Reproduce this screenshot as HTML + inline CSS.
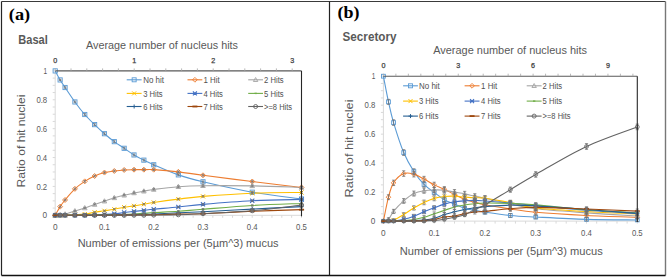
<!DOCTYPE html><html><head><meta charset="utf-8"><style>html,body{margin:0;padding:0;background:#fff;overflow:hidden}svg{display:block}</style></head><body><svg width="667" height="277" viewBox="0 0 667 277">
<rect x="0" y="0" width="667" height="277" fill="#fff"/>
<path d="M55.20,70.90 L55.20,215.30" stroke="#D9D9D9" stroke-width="1"/>
<path d="M52.70,215.30 L55.20,215.30" stroke="#D9D9D9" stroke-width="1"/>
<path d="M52.70,208.08 L55.20,208.08" stroke="#D9D9D9" stroke-width="1"/>
<path d="M52.70,200.86 L55.20,200.86" stroke="#D9D9D9" stroke-width="1"/>
<path d="M52.70,193.64 L55.20,193.64" stroke="#D9D9D9" stroke-width="1"/>
<path d="M52.70,186.42 L55.20,186.42" stroke="#D9D9D9" stroke-width="1"/>
<path d="M52.70,179.20 L55.20,179.20" stroke="#D9D9D9" stroke-width="1"/>
<path d="M52.70,171.98 L55.20,171.98" stroke="#D9D9D9" stroke-width="1"/>
<path d="M52.70,164.76 L55.20,164.76" stroke="#D9D9D9" stroke-width="1"/>
<path d="M52.70,157.54 L55.20,157.54" stroke="#D9D9D9" stroke-width="1"/>
<path d="M52.70,150.32 L55.20,150.32" stroke="#D9D9D9" stroke-width="1"/>
<path d="M52.70,143.10 L55.20,143.10" stroke="#D9D9D9" stroke-width="1"/>
<path d="M52.70,135.88 L55.20,135.88" stroke="#D9D9D9" stroke-width="1"/>
<path d="M52.70,128.66 L55.20,128.66" stroke="#D9D9D9" stroke-width="1"/>
<path d="M52.70,121.44 L55.20,121.44" stroke="#D9D9D9" stroke-width="1"/>
<path d="M52.70,114.22 L55.20,114.22" stroke="#D9D9D9" stroke-width="1"/>
<path d="M52.70,107.00 L55.20,107.00" stroke="#D9D9D9" stroke-width="1"/>
<path d="M52.70,99.78 L55.20,99.78" stroke="#D9D9D9" stroke-width="1"/>
<path d="M52.70,92.56 L55.20,92.56" stroke="#D9D9D9" stroke-width="1"/>
<path d="M52.70,85.34 L55.20,85.34" stroke="#D9D9D9" stroke-width="1"/>
<path d="M52.70,78.12 L55.20,78.12" stroke="#D9D9D9" stroke-width="1"/>
<path d="M52.70,70.90 L55.20,70.90" stroke="#D9D9D9" stroke-width="1"/>
<path d="M55.20,215.30 L301.50,215.30" stroke="#D9D9D9" stroke-width="1"/>
<path d="M55.20,215.30 L55.20,217.80" stroke="#D9D9D9" stroke-width="1"/>
<path d="M65.05,215.30 L65.05,217.80" stroke="#D9D9D9" stroke-width="1"/>
<path d="M74.90,215.30 L74.90,217.80" stroke="#D9D9D9" stroke-width="1"/>
<path d="M84.76,215.30 L84.76,217.80" stroke="#D9D9D9" stroke-width="1"/>
<path d="M94.61,215.30 L94.61,217.80" stroke="#D9D9D9" stroke-width="1"/>
<path d="M104.46,215.30 L104.46,217.80" stroke="#D9D9D9" stroke-width="1"/>
<path d="M114.31,215.30 L114.31,217.80" stroke="#D9D9D9" stroke-width="1"/>
<path d="M124.16,215.30 L124.16,217.80" stroke="#D9D9D9" stroke-width="1"/>
<path d="M134.02,215.30 L134.02,217.80" stroke="#D9D9D9" stroke-width="1"/>
<path d="M143.87,215.30 L143.87,217.80" stroke="#D9D9D9" stroke-width="1"/>
<path d="M153.72,215.30 L153.72,217.80" stroke="#D9D9D9" stroke-width="1"/>
<path d="M163.57,215.30 L163.57,217.80" stroke="#D9D9D9" stroke-width="1"/>
<path d="M173.42,215.30 L173.42,217.80" stroke="#D9D9D9" stroke-width="1"/>
<path d="M183.28,215.30 L183.28,217.80" stroke="#D9D9D9" stroke-width="1"/>
<path d="M193.13,215.30 L193.13,217.80" stroke="#D9D9D9" stroke-width="1"/>
<path d="M202.98,215.30 L202.98,217.80" stroke="#D9D9D9" stroke-width="1"/>
<path d="M212.83,215.30 L212.83,217.80" stroke="#D9D9D9" stroke-width="1"/>
<path d="M222.68,215.30 L222.68,217.80" stroke="#D9D9D9" stroke-width="1"/>
<path d="M232.54,215.30 L232.54,217.80" stroke="#D9D9D9" stroke-width="1"/>
<path d="M242.39,215.30 L242.39,217.80" stroke="#D9D9D9" stroke-width="1"/>
<path d="M252.24,215.30 L252.24,217.80" stroke="#D9D9D9" stroke-width="1"/>
<path d="M262.09,215.30 L262.09,217.80" stroke="#D9D9D9" stroke-width="1"/>
<path d="M271.94,215.30 L271.94,217.80" stroke="#D9D9D9" stroke-width="1"/>
<path d="M281.80,215.30 L281.80,217.80" stroke="#D9D9D9" stroke-width="1"/>
<path d="M291.65,215.30 L291.65,217.80" stroke="#D9D9D9" stroke-width="1"/>
<path d="M301.50,215.30 L301.50,217.80" stroke="#D9D9D9" stroke-width="1"/>
<path d="M55.20,70.90 C56.02,72.40 58.48,77.16 60.13,79.93 C61.77,82.69 62.59,83.84 65.05,87.51 C67.52,91.18 71.62,97.45 74.90,101.95 C78.19,106.45 81.47,110.73 84.76,114.51 C88.04,118.29 91.32,121.42 94.61,124.62 C97.89,127.82 101.18,130.87 104.46,133.71 C107.74,136.55 111.03,139.23 114.31,141.66 C117.60,144.09 120.88,146.08 124.16,148.30 C127.45,150.51 130.73,152.97 134.02,154.94 C137.30,156.91 140.58,158.50 143.87,160.14 C147.15,161.78 147.97,162.31 153.72,164.76 C159.47,167.21 170.14,172.03 178.35,174.87 C186.56,177.71 190.67,178.91 202.98,181.80 C215.30,184.69 235.82,189.33 252.24,192.20 C268.66,195.06 293.29,197.85 301.50,198.98" fill="none" stroke="#5B9BD5" stroke-width="1.1"/>
<path d="M55.20,215.30 C56.02,213.86 58.48,209.19 60.13,206.64 C61.77,204.08 62.59,202.95 65.05,199.99 C67.52,197.03 71.62,191.98 74.90,188.87 C78.19,185.77 81.47,183.51 84.76,181.37 C88.04,179.22 91.32,177.49 94.61,176.02 C97.89,174.56 101.18,173.40 104.46,172.56 C107.74,171.72 111.03,171.40 114.31,170.97 C117.60,170.54 120.88,170.18 124.16,169.96 C127.45,169.74 130.73,169.72 134.02,169.67 C137.30,169.62 140.58,169.67 143.87,169.67 C147.15,169.67 147.97,169.31 153.72,169.67 C159.47,170.03 170.14,170.90 178.35,171.84 C186.56,172.77 190.67,173.69 202.98,175.30 C215.30,176.91 235.82,179.49 252.24,181.51 C268.66,183.53 293.29,186.44 301.50,187.43" fill="none" stroke="#ED7D31" stroke-width="1.1"/>
<path d="M55.20,215.30 C56.02,215.23 58.48,215.06 60.13,214.87 C61.77,214.67 62.59,214.79 65.05,214.14 C67.52,213.50 71.62,212.00 74.90,210.97 C78.19,209.93 81.47,209.02 84.76,207.94 C88.04,206.85 91.32,205.60 94.61,204.47 C97.89,203.34 101.18,202.26 104.46,201.15 C107.74,200.04 111.03,198.81 114.31,197.83 C117.60,196.84 120.88,196.05 124.16,195.23 C127.45,194.41 130.73,193.59 134.02,192.92 C137.30,192.24 140.58,191.76 143.87,191.19 C147.15,190.61 147.97,190.20 153.72,189.45 C159.47,188.71 170.14,187.33 178.35,186.71 C186.56,186.08 190.67,185.84 202.98,185.70 C215.30,185.55 235.82,185.55 252.24,185.84 C268.66,186.13 293.29,187.17 301.50,187.43" fill="none" stroke="#A5A5A5" stroke-width="1.1"/>
<path d="M55.20,215.30 C56.02,215.30 58.48,215.32 60.13,215.30 C61.77,215.28 62.59,215.23 65.05,215.16 C67.52,215.08 71.62,215.04 74.90,214.87 C78.19,214.70 81.47,214.58 84.76,214.14 C88.04,213.71 91.32,212.82 94.61,212.27 C97.89,211.71 101.18,211.33 104.46,210.82 C107.74,210.32 111.03,209.84 114.31,209.24 C117.60,208.63 120.88,207.77 124.16,207.21 C127.45,206.66 130.73,206.42 134.02,205.91 C137.30,205.41 140.58,204.76 143.87,204.18 C147.15,203.60 147.97,203.29 153.72,202.45 C159.47,201.61 170.14,200.14 178.35,199.13 C186.56,198.12 190.67,197.37 202.98,196.38 C215.30,195.40 235.82,193.86 252.24,193.21 C268.66,192.56 293.29,192.61 301.50,192.48" fill="none" stroke="#FFC000" stroke-width="1.1"/>
<path d="M55.20,215.30 C56.02,215.30 58.48,215.30 60.13,215.30 C61.77,215.30 62.59,215.30 65.05,215.30 C67.52,215.30 71.62,215.32 74.90,215.30 C78.19,215.28 81.47,215.23 84.76,215.16 C88.04,215.08 91.32,214.99 94.61,214.87 C97.89,214.75 101.18,214.60 104.46,214.43 C107.74,214.27 111.03,214.17 114.31,213.86 C117.60,213.54 120.88,212.97 124.16,212.56 C127.45,212.15 130.73,211.76 134.02,211.40 C137.30,211.04 140.58,210.75 143.87,210.39 C147.15,210.03 147.97,209.79 153.72,209.24 C159.47,208.68 170.14,207.89 178.35,207.07 C186.56,206.25 190.67,205.38 202.98,204.33 C215.30,203.27 235.82,201.53 252.24,200.72 C268.66,199.90 293.29,199.63 301.50,199.42" fill="none" stroke="#4472C4" stroke-width="1.1"/>
<path d="M55.20,215.30 C56.02,215.30 58.48,215.30 60.13,215.30 C61.77,215.30 62.59,215.30 65.05,215.30 C67.52,215.30 71.62,215.30 74.90,215.30 C78.19,215.30 81.47,215.32 84.76,215.30 C88.04,215.28 91.32,215.20 94.61,215.16 C97.89,215.11 101.18,215.08 104.46,215.01 C107.74,214.94 111.03,214.82 114.31,214.72 C117.60,214.63 120.88,214.55 124.16,214.43 C127.45,214.31 130.73,214.17 134.02,214.00 C137.30,213.83 140.58,213.66 143.87,213.42 C147.15,213.18 147.97,212.92 153.72,212.56 C159.47,212.20 170.14,211.81 178.35,211.26 C186.56,210.70 190.67,210.20 202.98,209.24 C215.30,208.27 235.82,206.44 252.24,205.48 C268.66,204.52 293.29,203.80 301.50,203.46" fill="none" stroke="#70AD47" stroke-width="1.1"/>
<path d="M55.20,215.30 C56.02,215.30 58.48,215.30 60.13,215.30 C61.77,215.30 62.59,215.30 65.05,215.30 C67.52,215.30 71.62,215.30 74.90,215.30 C78.19,215.30 81.47,215.30 84.76,215.30 C88.04,215.30 91.32,215.32 94.61,215.30 C97.89,215.28 101.18,215.20 104.46,215.16 C107.74,215.11 111.03,215.06 114.31,215.01 C117.60,214.96 120.88,214.94 124.16,214.87 C127.45,214.79 130.73,214.67 134.02,214.58 C137.30,214.48 140.58,214.39 143.87,214.29 C147.15,214.19 147.97,214.24 153.72,214.00 C159.47,213.76 170.14,213.23 178.35,212.85 C186.56,212.46 190.67,212.32 202.98,211.69 C215.30,211.06 235.82,209.93 252.24,209.09 C268.66,208.25 293.29,207.05 301.50,206.64" fill="none" stroke="#255E91" stroke-width="1.1"/>
<path d="M55.20,215.30 C56.02,215.30 58.48,215.30 60.13,215.30 C61.77,215.30 62.59,215.30 65.05,215.30 C67.52,215.30 71.62,215.30 74.90,215.30 C78.19,215.30 81.47,215.30 84.76,215.30 C88.04,215.30 91.32,215.30 94.61,215.30 C97.89,215.30 101.18,215.32 104.46,215.30 C107.74,215.28 111.03,215.18 114.31,215.16 C117.60,215.13 120.88,215.18 124.16,215.16 C127.45,215.13 130.73,215.06 134.02,215.01 C137.30,214.96 140.58,214.91 143.87,214.87 C147.15,214.82 147.97,214.84 153.72,214.72 C159.47,214.60 170.14,214.31 178.35,214.14 C186.56,213.98 190.67,214.19 202.98,213.71 C215.30,213.23 235.82,211.93 252.24,211.26 C268.66,210.58 293.29,209.93 301.50,209.67" fill="none" stroke="#9E480E" stroke-width="1.1"/>
<path d="M55.20,215.30 C56.02,215.30 58.48,215.30 60.13,215.30 C61.77,215.30 62.59,215.30 65.05,215.30 C67.52,215.30 71.62,215.30 74.90,215.30 C78.19,215.30 81.47,215.30 84.76,215.30 C88.04,215.30 91.32,215.30 94.61,215.30 C97.89,215.30 101.18,215.30 104.46,215.30 C107.74,215.30 111.03,215.30 114.31,215.30 C117.60,215.30 120.88,215.32 124.16,215.30 C127.45,215.28 130.73,215.18 134.02,215.16 C137.30,215.13 140.58,215.18 143.87,215.16 C147.15,215.13 147.97,215.08 153.72,215.01 C159.47,214.94 170.14,214.96 178.35,214.72 C186.56,214.48 190.67,214.24 202.98,213.57 C215.30,212.89 235.82,212.10 252.24,210.68 C268.66,209.26 293.29,205.99 301.50,205.05" fill="none" stroke="#636363" stroke-width="1.1"/>
<rect x="53.10" y="68.80" width="4.20" height="4.20" fill="none" stroke="#5B9BD5" stroke-width="0.9"/>
<rect x="58.03" y="77.83" width="4.20" height="4.20" fill="none" stroke="#5B9BD5" stroke-width="0.9"/>
<rect x="62.95" y="85.41" width="4.20" height="4.20" fill="none" stroke="#5B9BD5" stroke-width="0.9"/>
<rect x="72.80" y="99.85" width="4.20" height="4.20" fill="none" stroke="#5B9BD5" stroke-width="0.9"/>
<rect x="82.66" y="112.41" width="4.20" height="4.20" fill="none" stroke="#5B9BD5" stroke-width="0.9"/>
<rect x="92.51" y="122.52" width="4.20" height="4.20" fill="none" stroke="#5B9BD5" stroke-width="0.9"/>
<rect x="102.36" y="131.61" width="4.20" height="4.20" fill="none" stroke="#5B9BD5" stroke-width="0.9"/>
<rect x="112.21" y="139.56" width="4.20" height="4.20" fill="none" stroke="#5B9BD5" stroke-width="0.9"/>
<rect x="122.06" y="146.20" width="4.20" height="4.20" fill="none" stroke="#5B9BD5" stroke-width="0.9"/>
<rect x="131.92" y="152.84" width="4.20" height="4.20" fill="none" stroke="#5B9BD5" stroke-width="0.9"/>
<rect x="141.77" y="158.04" width="4.20" height="4.20" fill="none" stroke="#5B9BD5" stroke-width="0.9"/>
<rect x="151.62" y="162.66" width="4.20" height="4.20" fill="none" stroke="#5B9BD5" stroke-width="0.9"/>
<rect x="176.25" y="172.77" width="4.20" height="4.20" fill="none" stroke="#5B9BD5" stroke-width="0.9"/>
<rect x="200.88" y="179.70" width="4.20" height="4.20" fill="none" stroke="#5B9BD5" stroke-width="0.9"/>
<rect x="250.14" y="190.10" width="4.20" height="4.20" fill="none" stroke="#5B9BD5" stroke-width="0.9"/>
<rect x="299.40" y="196.88" width="4.20" height="4.20" fill="none" stroke="#5B9BD5" stroke-width="0.9"/>
<path d="M55.20,212.80 L57.70,215.30 L55.20,217.80 L52.70,215.30 Z" fill="none" stroke="#ED7D31" stroke-width="0.9"/>
<path d="M60.13,204.14 L62.63,206.64 L60.13,209.14 L57.63,206.64 Z" fill="none" stroke="#ED7D31" stroke-width="0.9"/>
<path d="M65.05,197.49 L67.55,199.99 L65.05,202.49 L62.55,199.99 Z" fill="none" stroke="#ED7D31" stroke-width="0.9"/>
<path d="M74.90,186.37 L77.40,188.87 L74.90,191.37 L72.40,188.87 Z" fill="none" stroke="#ED7D31" stroke-width="0.9"/>
<path d="M84.76,178.87 L87.26,181.37 L84.76,183.87 L82.26,181.37 Z" fill="none" stroke="#ED7D31" stroke-width="0.9"/>
<path d="M94.61,173.52 L97.11,176.02 L94.61,178.52 L92.11,176.02 Z" fill="none" stroke="#ED7D31" stroke-width="0.9"/>
<path d="M104.46,170.06 L106.96,172.56 L104.46,175.06 L101.96,172.56 Z" fill="none" stroke="#ED7D31" stroke-width="0.9"/>
<path d="M114.31,168.47 L116.81,170.97 L114.31,173.47 L111.81,170.97 Z" fill="none" stroke="#ED7D31" stroke-width="0.9"/>
<path d="M124.16,167.46 L126.66,169.96 L124.16,172.46 L121.66,169.96 Z" fill="none" stroke="#ED7D31" stroke-width="0.9"/>
<path d="M134.02,167.17 L136.52,169.67 L134.02,172.17 L131.52,169.67 Z" fill="none" stroke="#ED7D31" stroke-width="0.9"/>
<path d="M143.87,167.17 L146.37,169.67 L143.87,172.17 L141.37,169.67 Z" fill="none" stroke="#ED7D31" stroke-width="0.9"/>
<path d="M153.72,167.17 L156.22,169.67 L153.72,172.17 L151.22,169.67 Z" fill="none" stroke="#ED7D31" stroke-width="0.9"/>
<path d="M178.35,169.34 L180.85,171.84 L178.35,174.34 L175.85,171.84 Z" fill="none" stroke="#ED7D31" stroke-width="0.9"/>
<path d="M202.98,172.80 L205.48,175.30 L202.98,177.80 L200.48,175.30 Z" fill="none" stroke="#ED7D31" stroke-width="0.9"/>
<path d="M252.24,179.01 L254.74,181.51 L252.24,184.01 L249.74,181.51 Z" fill="none" stroke="#ED7D31" stroke-width="0.9"/>
<path d="M301.50,184.93 L304.00,187.43 L301.50,189.93 L299.00,187.43 Z" fill="none" stroke="#ED7D31" stroke-width="0.9"/>
<path d="M55.20,212.90 L57.50,217.10 L52.90,217.10 Z" fill="none" stroke="#A5A5A5" stroke-width="0.9"/>
<path d="M60.13,212.47 L62.43,216.67 L57.83,216.67 Z" fill="none" stroke="#A5A5A5" stroke-width="0.9"/>
<path d="M65.05,211.74 L67.35,215.94 L62.75,215.94 Z" fill="none" stroke="#A5A5A5" stroke-width="0.9"/>
<path d="M74.90,208.57 L77.20,212.77 L72.60,212.77 Z" fill="none" stroke="#A5A5A5" stroke-width="0.9"/>
<path d="M84.76,205.54 L87.06,209.74 L82.46,209.74 Z" fill="none" stroke="#A5A5A5" stroke-width="0.9"/>
<path d="M94.61,202.07 L96.91,206.27 L92.31,206.27 Z" fill="none" stroke="#A5A5A5" stroke-width="0.9"/>
<path d="M104.46,198.75 L106.76,202.95 L102.16,202.95 Z" fill="none" stroke="#A5A5A5" stroke-width="0.9"/>
<path d="M114.31,195.43 L116.61,199.63 L112.01,199.63 Z" fill="none" stroke="#A5A5A5" stroke-width="0.9"/>
<path d="M124.16,192.83 L126.46,197.03 L121.86,197.03 Z" fill="none" stroke="#A5A5A5" stroke-width="0.9"/>
<path d="M134.02,190.52 L136.32,194.72 L131.72,194.72 Z" fill="none" stroke="#A5A5A5" stroke-width="0.9"/>
<path d="M143.87,188.79 L146.17,192.99 L141.57,192.99 Z" fill="none" stroke="#A5A5A5" stroke-width="0.9"/>
<path d="M153.72,187.05 L156.02,191.25 L151.42,191.25 Z" fill="none" stroke="#A5A5A5" stroke-width="0.9"/>
<path d="M178.35,184.31 L180.65,188.51 L176.05,188.51 Z" fill="none" stroke="#A5A5A5" stroke-width="0.9"/>
<path d="M202.98,183.30 L205.28,187.50 L200.68,187.50 Z" fill="none" stroke="#A5A5A5" stroke-width="0.9"/>
<path d="M252.24,183.44 L254.54,187.64 L249.94,187.64 Z" fill="none" stroke="#A5A5A5" stroke-width="0.9"/>
<path d="M301.50,185.03 L303.80,189.23 L299.20,189.23 Z" fill="none" stroke="#A5A5A5" stroke-width="0.9"/>
<path d="M53.10,213.20 L57.30,217.40 M57.30,213.20 L53.10,217.40" stroke="#FFC000" stroke-width="1"/>
<path d="M58.03,213.20 L62.23,217.40 M62.23,213.20 L58.03,217.40" stroke="#FFC000" stroke-width="1"/>
<path d="M62.95,213.06 L67.15,217.26 M67.15,213.06 L62.95,217.26" stroke="#FFC000" stroke-width="1"/>
<path d="M72.80,212.77 L77.00,216.97 M77.00,212.77 L72.80,216.97" stroke="#FFC000" stroke-width="1"/>
<path d="M82.66,212.04 L86.86,216.24 M86.86,212.04 L82.66,216.24" stroke="#FFC000" stroke-width="1"/>
<path d="M92.51,210.17 L96.71,214.37 M96.71,210.17 L92.51,214.37" stroke="#FFC000" stroke-width="1"/>
<path d="M102.36,208.72 L106.56,212.92 M106.56,208.72 L102.36,212.92" stroke="#FFC000" stroke-width="1"/>
<path d="M112.21,207.14 L116.41,211.34 M116.41,207.14 L112.21,211.34" stroke="#FFC000" stroke-width="1"/>
<path d="M122.06,205.11 L126.26,209.31 M126.26,205.11 L122.06,209.31" stroke="#FFC000" stroke-width="1"/>
<path d="M131.92,203.81 L136.12,208.01 M136.12,203.81 L131.92,208.01" stroke="#FFC000" stroke-width="1"/>
<path d="M141.77,202.08 L145.97,206.28 M145.97,202.08 L141.77,206.28" stroke="#FFC000" stroke-width="1"/>
<path d="M151.62,200.35 L155.82,204.55 M155.82,200.35 L151.62,204.55" stroke="#FFC000" stroke-width="1"/>
<path d="M176.25,197.03 L180.45,201.23 M180.45,197.03 L176.25,201.23" stroke="#FFC000" stroke-width="1"/>
<path d="M200.88,194.28 L205.08,198.48 M205.08,194.28 L200.88,198.48" stroke="#FFC000" stroke-width="1"/>
<path d="M250.14,191.11 L254.34,195.31 M254.34,191.11 L250.14,195.31" stroke="#FFC000" stroke-width="1"/>
<path d="M299.40,190.38 L303.60,194.58 M303.60,190.38 L299.40,194.58" stroke="#FFC000" stroke-width="1"/>
<path d="M53.10,213.20 L57.30,217.40 M57.30,213.20 L53.10,217.40 M53.10,215.30 L57.30,215.30" stroke="#4472C4" stroke-width="1.1"/>
<path d="M58.03,213.20 L62.23,217.40 M62.23,213.20 L58.03,217.40 M58.03,215.30 L62.23,215.30" stroke="#4472C4" stroke-width="1.1"/>
<path d="M62.95,213.20 L67.15,217.40 M67.15,213.20 L62.95,217.40 M62.95,215.30 L67.15,215.30" stroke="#4472C4" stroke-width="1.1"/>
<path d="M72.80,213.20 L77.00,217.40 M77.00,213.20 L72.80,217.40 M72.80,215.30 L77.00,215.30" stroke="#4472C4" stroke-width="1.1"/>
<path d="M82.66,213.06 L86.86,217.26 M86.86,213.06 L82.66,217.26 M82.66,215.16 L86.86,215.16" stroke="#4472C4" stroke-width="1.1"/>
<path d="M92.51,212.77 L96.71,216.97 M96.71,212.77 L92.51,216.97 M92.51,214.87 L96.71,214.87" stroke="#4472C4" stroke-width="1.1"/>
<path d="M102.36,212.33 L106.56,216.53 M106.56,212.33 L102.36,216.53 M102.36,214.43 L106.56,214.43" stroke="#4472C4" stroke-width="1.1"/>
<path d="M112.21,211.76 L116.41,215.96 M116.41,211.76 L112.21,215.96 M112.21,213.86 L116.41,213.86" stroke="#4472C4" stroke-width="1.1"/>
<path d="M122.06,210.46 L126.26,214.66 M126.26,210.46 L122.06,214.66 M122.06,212.56 L126.26,212.56" stroke="#4472C4" stroke-width="1.1"/>
<path d="M131.92,209.30 L136.12,213.50 M136.12,209.30 L131.92,213.50 M131.92,211.40 L136.12,211.40" stroke="#4472C4" stroke-width="1.1"/>
<path d="M141.77,208.29 L145.97,212.49 M145.97,208.29 L141.77,212.49 M141.77,210.39 L145.97,210.39" stroke="#4472C4" stroke-width="1.1"/>
<path d="M151.62,207.14 L155.82,211.34 M155.82,207.14 L151.62,211.34 M151.62,209.24 L155.82,209.24" stroke="#4472C4" stroke-width="1.1"/>
<path d="M176.25,204.97 L180.45,209.17 M180.45,204.97 L176.25,209.17 M176.25,207.07 L180.45,207.07" stroke="#4472C4" stroke-width="1.1"/>
<path d="M200.88,202.23 L205.08,206.43 M205.08,202.23 L200.88,206.43 M200.88,204.33 L205.08,204.33" stroke="#4472C4" stroke-width="1.1"/>
<path d="M250.14,198.62 L254.34,202.82 M254.34,198.62 L250.14,202.82 M250.14,200.72 L254.34,200.72" stroke="#4472C4" stroke-width="1.1"/>
<path d="M299.40,197.32 L303.60,201.52 M303.60,197.32 L299.40,201.52 M299.40,199.42 L303.60,199.42" stroke="#4472C4" stroke-width="1.1"/>
<path d="M54.00,215.30 L56.40,215.30" stroke="#70AD47" stroke-width="1.4"/>
<path d="M58.93,215.30 L61.33,215.30" stroke="#70AD47" stroke-width="1.4"/>
<path d="M63.85,215.30 L66.25,215.30" stroke="#70AD47" stroke-width="1.4"/>
<path d="M73.70,215.30 L76.10,215.30" stroke="#70AD47" stroke-width="1.4"/>
<path d="M83.56,215.30 L85.96,215.30" stroke="#70AD47" stroke-width="1.4"/>
<path d="M93.41,215.16 L95.81,215.16" stroke="#70AD47" stroke-width="1.4"/>
<path d="M103.26,215.01 L105.66,215.01" stroke="#70AD47" stroke-width="1.4"/>
<path d="M113.11,214.72 L115.51,214.72" stroke="#70AD47" stroke-width="1.4"/>
<path d="M122.96,214.43 L125.36,214.43" stroke="#70AD47" stroke-width="1.4"/>
<path d="M132.82,214.00 L135.22,214.00" stroke="#70AD47" stroke-width="1.4"/>
<path d="M142.67,213.42 L145.07,213.42" stroke="#70AD47" stroke-width="1.4"/>
<path d="M152.52,212.56 L154.92,212.56" stroke="#70AD47" stroke-width="1.4"/>
<path d="M177.15,211.26 L179.55,211.26" stroke="#70AD47" stroke-width="1.4"/>
<path d="M201.78,209.24 L204.18,209.24" stroke="#70AD47" stroke-width="1.4"/>
<path d="M251.04,205.48 L253.44,205.48" stroke="#70AD47" stroke-width="1.4"/>
<path d="M300.30,203.46 L302.70,203.46" stroke="#70AD47" stroke-width="1.4"/>
<path d="M53.10,215.30 L57.30,215.30 M55.20,213.20 L55.20,217.40" stroke="#255E91" stroke-width="1"/>
<path d="M58.03,215.30 L62.23,215.30 M60.13,213.20 L60.13,217.40" stroke="#255E91" stroke-width="1"/>
<path d="M62.95,215.30 L67.15,215.30 M65.05,213.20 L65.05,217.40" stroke="#255E91" stroke-width="1"/>
<path d="M72.80,215.30 L77.00,215.30 M74.90,213.20 L74.90,217.40" stroke="#255E91" stroke-width="1"/>
<path d="M82.66,215.30 L86.86,215.30 M84.76,213.20 L84.76,217.40" stroke="#255E91" stroke-width="1"/>
<path d="M92.51,215.30 L96.71,215.30 M94.61,213.20 L94.61,217.40" stroke="#255E91" stroke-width="1"/>
<path d="M102.36,215.16 L106.56,215.16 M104.46,213.06 L104.46,217.26" stroke="#255E91" stroke-width="1"/>
<path d="M112.21,215.01 L116.41,215.01 M114.31,212.91 L114.31,217.11" stroke="#255E91" stroke-width="1"/>
<path d="M122.06,214.87 L126.26,214.87 M124.16,212.77 L124.16,216.97" stroke="#255E91" stroke-width="1"/>
<path d="M131.92,214.58 L136.12,214.58 M134.02,212.48 L134.02,216.68" stroke="#255E91" stroke-width="1"/>
<path d="M141.77,214.29 L145.97,214.29 M143.87,212.19 L143.87,216.39" stroke="#255E91" stroke-width="1"/>
<path d="M151.62,214.00 L155.82,214.00 M153.72,211.90 L153.72,216.10" stroke="#255E91" stroke-width="1"/>
<path d="M176.25,212.85 L180.45,212.85 M178.35,210.75 L178.35,214.95" stroke="#255E91" stroke-width="1"/>
<path d="M200.88,211.69 L205.08,211.69 M202.98,209.59 L202.98,213.79" stroke="#255E91" stroke-width="1"/>
<path d="M250.14,209.09 L254.34,209.09 M252.24,206.99 L252.24,211.19" stroke="#255E91" stroke-width="1"/>
<path d="M299.40,206.64 L303.60,206.64 M301.50,204.54 L301.50,208.74" stroke="#255E91" stroke-width="1"/>
<path d="M52.60,215.30 L57.80,215.30" stroke="#9E480E" stroke-width="1.8"/>
<path d="M57.53,215.30 L62.73,215.30" stroke="#9E480E" stroke-width="1.8"/>
<path d="M62.45,215.30 L67.65,215.30" stroke="#9E480E" stroke-width="1.8"/>
<path d="M72.30,215.30 L77.50,215.30" stroke="#9E480E" stroke-width="1.8"/>
<path d="M82.16,215.30 L87.36,215.30" stroke="#9E480E" stroke-width="1.8"/>
<path d="M92.01,215.30 L97.21,215.30" stroke="#9E480E" stroke-width="1.8"/>
<path d="M101.86,215.30 L107.06,215.30" stroke="#9E480E" stroke-width="1.8"/>
<path d="M111.71,215.16 L116.91,215.16" stroke="#9E480E" stroke-width="1.8"/>
<path d="M121.56,215.16 L126.76,215.16" stroke="#9E480E" stroke-width="1.8"/>
<path d="M131.42,215.01 L136.62,215.01" stroke="#9E480E" stroke-width="1.8"/>
<path d="M141.27,214.87 L146.47,214.87" stroke="#9E480E" stroke-width="1.8"/>
<path d="M151.12,214.72 L156.32,214.72" stroke="#9E480E" stroke-width="1.8"/>
<path d="M175.75,214.14 L180.95,214.14" stroke="#9E480E" stroke-width="1.8"/>
<path d="M200.38,213.71 L205.58,213.71" stroke="#9E480E" stroke-width="1.8"/>
<path d="M249.64,211.26 L254.84,211.26" stroke="#9E480E" stroke-width="1.8"/>
<path d="M298.90,209.67 L304.10,209.67" stroke="#9E480E" stroke-width="1.8"/>
<circle cx="55.20" cy="215.30" r="2.10" fill="none" stroke="#636363" stroke-width="0.9"/>
<circle cx="60.13" cy="215.30" r="2.10" fill="none" stroke="#636363" stroke-width="0.9"/>
<circle cx="65.05" cy="215.30" r="2.10" fill="none" stroke="#636363" stroke-width="0.9"/>
<circle cx="74.90" cy="215.30" r="2.10" fill="none" stroke="#636363" stroke-width="0.9"/>
<circle cx="84.76" cy="215.30" r="2.10" fill="none" stroke="#636363" stroke-width="0.9"/>
<circle cx="94.61" cy="215.30" r="2.10" fill="none" stroke="#636363" stroke-width="0.9"/>
<circle cx="104.46" cy="215.30" r="2.10" fill="none" stroke="#636363" stroke-width="0.9"/>
<circle cx="114.31" cy="215.30" r="2.10" fill="none" stroke="#636363" stroke-width="0.9"/>
<circle cx="124.16" cy="215.30" r="2.10" fill="none" stroke="#636363" stroke-width="0.9"/>
<circle cx="134.02" cy="215.16" r="2.10" fill="none" stroke="#636363" stroke-width="0.9"/>
<circle cx="143.87" cy="215.16" r="2.10" fill="none" stroke="#636363" stroke-width="0.9"/>
<circle cx="153.72" cy="215.01" r="2.10" fill="none" stroke="#636363" stroke-width="0.9"/>
<circle cx="178.35" cy="214.72" r="2.10" fill="none" stroke="#636363" stroke-width="0.9"/>
<circle cx="202.98" cy="213.57" r="2.10" fill="none" stroke="#636363" stroke-width="0.9"/>
<circle cx="252.24" cy="210.68" r="2.10" fill="none" stroke="#636363" stroke-width="0.9"/>
<circle cx="301.50" cy="205.05" r="2.10" fill="none" stroke="#636363" stroke-width="0.9"/>
<path d="M60.13,79.27 L60.13,80.58 M58.83,79.27 L61.43,79.27 M58.83,80.58 L61.43,80.58" stroke="#707070" stroke-width="0.75"/>
<path d="M65.05,86.77 L65.05,88.24 M63.75,86.77 L66.35,86.77 M63.75,88.24 L66.35,88.24" stroke="#707070" stroke-width="0.75"/>
<path d="M74.90,101.11 L74.90,102.78 M73.60,101.11 L76.20,101.11 M73.60,102.78 L76.20,102.78" stroke="#707070" stroke-width="0.75"/>
<path d="M84.76,113.62 L84.76,115.40 M83.46,113.62 L86.06,113.62 M83.46,115.40 L86.06,115.40" stroke="#707070" stroke-width="0.75"/>
<path d="M94.61,123.70 L94.61,125.53 M93.31,123.70 L95.91,123.70 M93.31,125.53 L95.91,125.53" stroke="#707070" stroke-width="0.75"/>
<path d="M104.46,132.78 L104.46,134.64 M103.16,132.78 L105.76,132.78 M103.16,134.64 L105.76,134.64" stroke="#707070" stroke-width="0.75"/>
<path d="M114.31,140.72 L114.31,142.59 M113.01,140.72 L115.61,140.72 M113.01,142.59 L115.61,142.59" stroke="#707070" stroke-width="0.75"/>
<path d="M124.16,147.36 L124.16,149.23 M122.86,147.36 L125.46,147.36 M122.86,149.23 L125.46,149.23" stroke="#707070" stroke-width="0.75"/>
<path d="M134.02,154.01 L134.02,155.87 M132.72,154.01 L135.32,154.01 M132.72,155.87 L135.32,155.87" stroke="#707070" stroke-width="0.75"/>
<path d="M143.87,159.22 L143.87,161.06 M142.57,159.22 L145.17,159.22 M142.57,161.06 L145.17,161.06" stroke="#707070" stroke-width="0.75"/>
<path d="M153.72,163.85 L153.72,165.67 M152.42,163.85 L155.02,163.85 M152.42,165.67 L155.02,165.67" stroke="#707070" stroke-width="0.75"/>
<path d="M178.35,173.99 L178.35,175.75 M177.05,173.99 L179.65,173.99 M177.05,175.75 L179.65,175.75" stroke="#707070" stroke-width="0.75"/>
<path d="M202.98,180.95 L202.98,182.65 M201.68,180.95 L204.28,180.95 M201.68,182.65 L204.28,182.65" stroke="#707070" stroke-width="0.75"/>
<path d="M252.24,191.41 L252.24,192.98 M250.94,191.41 L253.54,191.41 M250.94,192.98 L253.54,192.98" stroke="#707070" stroke-width="0.75"/>
<path d="M301.50,198.25 L301.50,199.72 M300.20,198.25 L302.80,198.25 M300.20,199.72 L302.80,199.72" stroke="#707070" stroke-width="0.75"/>
<path d="M60.13,205.99 L60.13,207.28 M58.83,205.99 L61.43,205.99 M58.83,207.28 L61.43,207.28" stroke="#707070" stroke-width="0.75"/>
<path d="M65.05,199.27 L65.05,200.72 M63.75,199.27 L66.35,199.27 M63.75,200.72 L66.35,200.72" stroke="#707070" stroke-width="0.75"/>
<path d="M74.90,188.06 L74.90,189.69 M73.60,188.06 L76.20,188.06 M73.60,189.69 L76.20,189.69" stroke="#707070" stroke-width="0.75"/>
<path d="M84.76,180.51 L84.76,182.22 M83.46,180.51 L86.06,180.51 M83.46,182.22 L86.06,182.22" stroke="#707070" stroke-width="0.75"/>
<path d="M94.61,175.15 L94.61,176.90 M93.31,175.15 L95.91,175.15 M93.31,176.90 L95.91,176.90" stroke="#707070" stroke-width="0.75"/>
<path d="M104.46,171.67 L104.46,173.44 M103.16,171.67 L105.76,171.67 M103.16,173.44 L105.76,173.44" stroke="#707070" stroke-width="0.75"/>
<path d="M114.31,170.08 L114.31,171.86 M113.01,170.08 L115.61,170.08 M113.01,171.86 L115.61,171.86" stroke="#707070" stroke-width="0.75"/>
<path d="M124.16,169.06 L124.16,170.85 M122.86,169.06 L125.46,169.06 M122.86,170.85 L125.46,170.85" stroke="#707070" stroke-width="0.75"/>
<path d="M134.02,168.77 L134.02,170.57 M132.72,168.77 L135.32,168.77 M132.72,170.57 L135.32,170.57" stroke="#707070" stroke-width="0.75"/>
<path d="M143.87,168.77 L143.87,170.57 M142.57,168.77 L145.17,168.77 M142.57,170.57 L145.17,170.57" stroke="#707070" stroke-width="0.75"/>
<path d="M153.72,168.77 L153.72,170.57 M152.42,168.77 L155.02,168.77 M152.42,170.57 L155.02,170.57" stroke="#707070" stroke-width="0.75"/>
<path d="M178.35,170.95 L178.35,172.73 M177.05,170.95 L179.65,170.95 M177.05,172.73 L179.65,172.73" stroke="#707070" stroke-width="0.75"/>
<path d="M202.98,174.42 L202.98,176.18 M201.68,174.42 L204.28,174.42 M201.68,176.18 L204.28,176.18" stroke="#707070" stroke-width="0.75"/>
<path d="M252.24,180.66 L252.24,182.36 M250.94,180.66 L253.54,180.66 M250.94,182.36 L253.54,182.36" stroke="#707070" stroke-width="0.75"/>
<path d="M301.50,186.61 L301.50,188.25 M300.20,186.61 L302.80,186.61 M300.20,188.25 L302.80,188.25" stroke="#707070" stroke-width="0.75"/>
<path d="M60.13,214.42 L60.13,215.31 M58.83,214.42 L61.43,214.42 M58.83,215.31 L61.43,215.31" stroke="#707070" stroke-width="0.75"/>
<path d="M65.05,213.66 L65.05,214.63 M63.75,213.66 L66.35,213.66 M63.75,214.63 L66.35,214.63" stroke="#707070" stroke-width="0.75"/>
<path d="M74.90,210.40 L74.90,211.54 M73.60,210.40 L76.20,210.40 M73.60,211.54 L76.20,211.54" stroke="#707070" stroke-width="0.75"/>
<path d="M84.76,207.31 L84.76,208.56 M83.46,207.31 L86.06,207.31 M83.46,208.56 L86.06,208.56" stroke="#707070" stroke-width="0.75"/>
<path d="M94.61,203.80 L94.61,205.14 M93.31,203.80 L95.91,203.80 M93.31,205.14 L95.91,205.14" stroke="#707070" stroke-width="0.75"/>
<path d="M104.46,200.44 L104.46,201.86 M103.16,200.44 L105.76,200.44 M103.16,201.86 L105.76,201.86" stroke="#707070" stroke-width="0.75"/>
<path d="M114.31,197.08 L114.31,198.57 M113.01,197.08 L115.61,197.08 M113.01,198.57 L115.61,198.57" stroke="#707070" stroke-width="0.75"/>
<path d="M124.16,194.46 L124.16,195.99 M122.86,194.46 L125.46,194.46 M122.86,195.99 L125.46,195.99" stroke="#707070" stroke-width="0.75"/>
<path d="M134.02,192.13 L134.02,193.70 M132.72,192.13 L135.32,192.13 M132.72,193.70 L135.32,193.70" stroke="#707070" stroke-width="0.75"/>
<path d="M143.87,190.39 L143.87,191.98 M142.57,190.39 L145.17,190.39 M142.57,191.98 L145.17,191.98" stroke="#707070" stroke-width="0.75"/>
<path d="M153.72,188.65 L153.72,190.26 M152.42,188.65 L155.02,188.65 M152.42,190.26 L155.02,190.26" stroke="#707070" stroke-width="0.75"/>
<path d="M178.35,185.89 L178.35,187.53 M177.05,185.89 L179.65,185.89 M177.05,187.53 L179.65,187.53" stroke="#707070" stroke-width="0.75"/>
<path d="M202.98,184.87 L202.98,186.53 M201.68,184.87 L204.28,184.87 M201.68,186.53 L204.28,186.53" stroke="#707070" stroke-width="0.75"/>
<path d="M252.24,185.01 L252.24,186.67 M250.94,185.01 L253.54,185.01 M250.94,186.67 L253.54,186.67" stroke="#707070" stroke-width="0.75"/>
<path d="M301.50,186.61 L301.50,188.25 M300.20,186.61 L302.80,186.61 M300.20,188.25 L302.80,188.25" stroke="#707070" stroke-width="0.75"/>
<path d="M60.13,214.92 L60.13,215.69 M58.83,214.92 L61.43,214.92 M58.83,215.69 L61.43,215.69" stroke="#707070" stroke-width="0.75"/>
<path d="M65.05,214.74 L65.05,215.58 M63.75,214.74 L66.35,214.74 M63.75,215.58 L66.35,215.58" stroke="#707070" stroke-width="0.75"/>
<path d="M74.90,214.42 L74.90,215.31 M73.60,214.42 L76.20,214.42 M73.60,215.31 L76.20,215.31" stroke="#707070" stroke-width="0.75"/>
<path d="M84.76,213.66 L84.76,214.63 M83.46,213.66 L86.06,213.66 M83.46,214.63 L86.06,214.63" stroke="#707070" stroke-width="0.75"/>
<path d="M94.61,211.72 L94.61,212.81 M93.31,211.72 L95.91,211.72 M93.31,212.81 L95.91,212.81" stroke="#707070" stroke-width="0.75"/>
<path d="M104.46,210.25 L104.46,211.40 M103.16,210.25 L105.76,210.25 M103.16,211.40 L105.76,211.40" stroke="#707070" stroke-width="0.75"/>
<path d="M114.31,208.63 L114.31,209.84 M113.01,208.63 L115.61,208.63 M113.01,209.84 L115.61,209.84" stroke="#707070" stroke-width="0.75"/>
<path d="M124.16,206.58 L124.16,207.85 M122.86,206.58 L125.46,206.58 M122.86,207.85 L125.46,207.85" stroke="#707070" stroke-width="0.75"/>
<path d="M134.02,205.26 L134.02,206.57 M132.72,205.26 L135.32,205.26 M132.72,206.57 L135.32,206.57" stroke="#707070" stroke-width="0.75"/>
<path d="M143.87,203.50 L143.87,204.86 M142.57,203.50 L145.17,203.50 M142.57,204.86 L145.17,204.86" stroke="#707070" stroke-width="0.75"/>
<path d="M153.72,201.75 L153.72,203.15 M152.42,201.75 L155.02,201.75 M152.42,203.15 L155.02,203.15" stroke="#707070" stroke-width="0.75"/>
<path d="M178.35,198.40 L178.35,199.86 M177.05,198.40 L179.65,198.40 M177.05,199.86 L179.65,199.86" stroke="#707070" stroke-width="0.75"/>
<path d="M202.98,195.63 L202.98,197.14 M201.68,195.63 L204.28,195.63 M201.68,197.14 L204.28,197.14" stroke="#707070" stroke-width="0.75"/>
<path d="M252.24,192.43 L252.24,193.99 M250.94,192.43 L253.54,192.43 M250.94,193.99 L253.54,193.99" stroke="#707070" stroke-width="0.75"/>
<path d="M301.50,191.70 L301.50,193.27 M300.20,191.70 L302.80,191.70 M300.20,193.27 L302.80,193.27" stroke="#707070" stroke-width="0.75"/>
<path d="M60.13,214.92 L60.13,215.69 M58.83,214.92 L61.43,214.92 M58.83,215.69 L61.43,215.69" stroke="#707070" stroke-width="0.75"/>
<path d="M65.05,214.92 L65.05,215.69 M63.75,214.92 L66.35,214.92 M63.75,215.69 L66.35,215.69" stroke="#707070" stroke-width="0.75"/>
<path d="M74.90,214.92 L74.90,215.69 M73.60,214.92 L76.20,214.92 M73.60,215.69 L76.20,215.69" stroke="#707070" stroke-width="0.75"/>
<path d="M84.76,214.74 L84.76,215.58 M83.46,214.74 L86.06,214.74 M83.46,215.58 L86.06,215.58" stroke="#707070" stroke-width="0.75"/>
<path d="M94.61,214.42 L94.61,215.31 M93.31,214.42 L95.91,214.42 M93.31,215.31 L95.91,215.31" stroke="#707070" stroke-width="0.75"/>
<path d="M104.46,213.96 L104.46,214.90 M103.16,213.96 L105.76,213.96 M103.16,214.90 L105.76,214.90" stroke="#707070" stroke-width="0.75"/>
<path d="M114.31,213.36 L114.31,214.35 M113.01,213.36 L115.61,213.36 M113.01,214.35 L115.61,214.35" stroke="#707070" stroke-width="0.75"/>
<path d="M124.16,212.02 L124.16,213.09 M122.86,212.02 L125.46,212.02 M122.86,213.09 L125.46,213.09" stroke="#707070" stroke-width="0.75"/>
<path d="M134.02,210.84 L134.02,211.96 M132.72,210.84 L135.32,210.84 M132.72,211.96 L135.32,211.96" stroke="#707070" stroke-width="0.75"/>
<path d="M143.87,209.81 L143.87,210.97 M142.57,209.81 L145.17,209.81 M142.57,210.97 L145.17,210.97" stroke="#707070" stroke-width="0.75"/>
<path d="M153.72,208.63 L153.72,209.84 M152.42,208.63 L155.02,208.63 M152.42,209.84 L155.02,209.84" stroke="#707070" stroke-width="0.75"/>
<path d="M178.35,206.43 L178.35,207.71 M177.05,206.43 L179.65,206.43 M177.05,207.71 L179.65,207.71" stroke="#707070" stroke-width="0.75"/>
<path d="M202.98,203.65 L202.98,205.00 M201.68,203.65 L204.28,203.65 M201.68,205.00 L204.28,205.00" stroke="#707070" stroke-width="0.75"/>
<path d="M252.24,200.00 L252.24,201.43 M250.94,200.00 L253.54,200.00 M250.94,201.43 L253.54,201.43" stroke="#707070" stroke-width="0.75"/>
<path d="M301.50,198.69 L301.50,200.15 M300.20,198.69 L302.80,198.69 M300.20,200.15 L302.80,200.15" stroke="#707070" stroke-width="0.75"/>
<path d="M60.13,214.92 L60.13,215.69 M58.83,214.92 L61.43,214.92 M58.83,215.69 L61.43,215.69" stroke="#707070" stroke-width="0.75"/>
<path d="M65.05,214.92 L65.05,215.69 M63.75,214.92 L66.35,214.92 M63.75,215.69 L66.35,215.69" stroke="#707070" stroke-width="0.75"/>
<path d="M74.90,214.92 L74.90,215.69 M73.60,214.92 L76.20,214.92 M73.60,215.69 L76.20,215.69" stroke="#707070" stroke-width="0.75"/>
<path d="M84.76,214.92 L84.76,215.69 M83.46,214.92 L86.06,214.92 M83.46,215.69 L86.06,215.69" stroke="#707070" stroke-width="0.75"/>
<path d="M94.61,214.74 L94.61,215.58 M93.31,214.74 L95.91,214.74 M93.31,215.58 L95.91,215.58" stroke="#707070" stroke-width="0.75"/>
<path d="M104.46,214.58 L104.46,215.45 M103.16,214.58 L105.76,214.58 M103.16,215.45 L105.76,215.45" stroke="#707070" stroke-width="0.75"/>
<path d="M114.31,214.27 L114.31,215.18 M113.01,214.27 L115.61,214.27 M113.01,215.18 L115.61,215.18" stroke="#707070" stroke-width="0.75"/>
<path d="M124.16,213.96 L124.16,214.90 M122.86,213.96 L125.46,213.96 M122.86,214.90 L125.46,214.90" stroke="#707070" stroke-width="0.75"/>
<path d="M134.02,213.51 L134.02,214.49 M132.72,213.51 L135.32,213.51 M132.72,214.49 L135.32,214.49" stroke="#707070" stroke-width="0.75"/>
<path d="M143.87,212.91 L143.87,213.93 M142.57,212.91 L145.17,212.91 M142.57,213.93 L145.17,213.93" stroke="#707070" stroke-width="0.75"/>
<path d="M153.72,212.02 L153.72,213.09 M152.42,212.02 L155.02,212.02 M152.42,213.09 L155.02,213.09" stroke="#707070" stroke-width="0.75"/>
<path d="M178.35,210.69 L178.35,211.82 M177.05,210.69 L179.65,210.69 M177.05,211.82 L179.65,211.82" stroke="#707070" stroke-width="0.75"/>
<path d="M202.98,208.63 L202.98,209.84 M201.68,208.63 L204.28,208.63 M201.68,209.84 L204.28,209.84" stroke="#707070" stroke-width="0.75"/>
<path d="M252.24,204.82 L252.24,206.14 M250.94,204.82 L253.54,204.82 M250.94,206.14 L253.54,206.14" stroke="#707070" stroke-width="0.75"/>
<path d="M301.50,202.77 L301.50,204.15 M300.20,202.77 L302.80,202.77 M300.20,204.15 L302.80,204.15" stroke="#707070" stroke-width="0.75"/>
<path d="M60.13,214.92 L60.13,215.69 M58.83,214.92 L61.43,214.92 M58.83,215.69 L61.43,215.69" stroke="#707070" stroke-width="0.75"/>
<path d="M65.05,214.92 L65.05,215.69 M63.75,214.92 L66.35,214.92 M63.75,215.69 L66.35,215.69" stroke="#707070" stroke-width="0.75"/>
<path d="M74.90,214.92 L74.90,215.69 M73.60,214.92 L76.20,214.92 M73.60,215.69 L76.20,215.69" stroke="#707070" stroke-width="0.75"/>
<path d="M84.76,214.92 L84.76,215.69 M83.46,214.92 L86.06,214.92 M83.46,215.69 L86.06,215.69" stroke="#707070" stroke-width="0.75"/>
<path d="M94.61,214.92 L94.61,215.69 M93.31,214.92 L95.91,214.92 M93.31,215.69 L95.91,215.69" stroke="#707070" stroke-width="0.75"/>
<path d="M104.46,214.74 L104.46,215.58 M103.16,214.74 L105.76,214.74 M103.16,215.58 L105.76,215.58" stroke="#707070" stroke-width="0.75"/>
<path d="M114.31,214.58 L114.31,215.45 M113.01,214.58 L115.61,214.58 M113.01,215.45 L115.61,215.45" stroke="#707070" stroke-width="0.75"/>
<path d="M124.16,214.42 L124.16,215.31 M122.86,214.42 L125.46,214.42 M122.86,215.31 L125.46,215.31" stroke="#707070" stroke-width="0.75"/>
<path d="M134.02,214.12 L134.02,215.04 M132.72,214.12 L135.32,214.12 M132.72,215.04 L135.32,215.04" stroke="#707070" stroke-width="0.75"/>
<path d="M143.87,213.81 L143.87,214.77 M142.57,213.81 L145.17,213.81 M142.57,214.77 L145.17,214.77" stroke="#707070" stroke-width="0.75"/>
<path d="M153.72,213.51 L153.72,214.49 M152.42,213.51 L155.02,213.51 M152.42,214.49 L155.02,214.49" stroke="#707070" stroke-width="0.75"/>
<path d="M178.35,212.32 L178.35,213.37 M177.05,212.32 L179.65,212.32 M177.05,213.37 L179.65,213.37" stroke="#707070" stroke-width="0.75"/>
<path d="M202.98,211.13 L202.98,212.25 M201.68,211.13 L204.28,211.13 M201.68,212.25 L204.28,212.25" stroke="#707070" stroke-width="0.75"/>
<path d="M252.24,208.48 L252.24,209.70 M250.94,208.48 L253.54,208.48 M250.94,209.70 L253.54,209.70" stroke="#707070" stroke-width="0.75"/>
<path d="M301.50,205.99 L301.50,207.28 M300.20,205.99 L302.80,205.99 M300.20,207.28 L302.80,207.28" stroke="#707070" stroke-width="0.75"/>
<path d="M60.13,214.92 L60.13,215.69 M58.83,214.92 L61.43,214.92 M58.83,215.69 L61.43,215.69" stroke="#707070" stroke-width="0.75"/>
<path d="M65.05,214.92 L65.05,215.69 M63.75,214.92 L66.35,214.92 M63.75,215.69 L66.35,215.69" stroke="#707070" stroke-width="0.75"/>
<path d="M74.90,214.92 L74.90,215.69 M73.60,214.92 L76.20,214.92 M73.60,215.69 L76.20,215.69" stroke="#707070" stroke-width="0.75"/>
<path d="M84.76,214.92 L84.76,215.69 M83.46,214.92 L86.06,214.92 M83.46,215.69 L86.06,215.69" stroke="#707070" stroke-width="0.75"/>
<path d="M94.61,214.92 L94.61,215.69 M93.31,214.92 L95.91,214.92 M93.31,215.69 L95.91,215.69" stroke="#707070" stroke-width="0.75"/>
<path d="M104.46,214.92 L104.46,215.69 M103.16,214.92 L105.76,214.92 M103.16,215.69 L105.76,215.69" stroke="#707070" stroke-width="0.75"/>
<path d="M114.31,214.74 L114.31,215.58 M113.01,214.74 L115.61,214.74 M113.01,215.58 L115.61,215.58" stroke="#707070" stroke-width="0.75"/>
<path d="M124.16,214.74 L124.16,215.58 M122.86,214.74 L125.46,214.74 M122.86,215.58 L125.46,215.58" stroke="#707070" stroke-width="0.75"/>
<path d="M134.02,214.58 L134.02,215.45 M132.72,214.58 L135.32,214.58 M132.72,215.45 L135.32,215.45" stroke="#707070" stroke-width="0.75"/>
<path d="M143.87,214.42 L143.87,215.31 M142.57,214.42 L145.17,214.42 M142.57,215.31 L145.17,215.31" stroke="#707070" stroke-width="0.75"/>
<path d="M153.72,214.27 L153.72,215.18 M152.42,214.27 L155.02,214.27 M152.42,215.18 L155.02,215.18" stroke="#707070" stroke-width="0.75"/>
<path d="M178.35,213.66 L178.35,214.63 M177.05,213.66 L179.65,213.66 M177.05,214.63 L179.65,214.63" stroke="#707070" stroke-width="0.75"/>
<path d="M202.98,213.21 L202.98,214.21 M201.68,213.21 L204.28,213.21 M201.68,214.21 L204.28,214.21" stroke="#707070" stroke-width="0.75"/>
<path d="M252.24,210.69 L252.24,211.82 M250.94,210.69 L253.54,210.69 M250.94,211.82 L253.54,211.82" stroke="#707070" stroke-width="0.75"/>
<path d="M301.50,209.07 L301.50,210.27 M300.20,209.07 L302.80,209.07 M300.20,210.27 L302.80,210.27" stroke="#707070" stroke-width="0.75"/>
<path d="M60.13,214.92 L60.13,215.69 M58.83,214.92 L61.43,214.92 M58.83,215.69 L61.43,215.69" stroke="#707070" stroke-width="0.75"/>
<path d="M65.05,214.92 L65.05,215.69 M63.75,214.92 L66.35,214.92 M63.75,215.69 L66.35,215.69" stroke="#707070" stroke-width="0.75"/>
<path d="M74.90,214.92 L74.90,215.69 M73.60,214.92 L76.20,214.92 M73.60,215.69 L76.20,215.69" stroke="#707070" stroke-width="0.75"/>
<path d="M84.76,214.92 L84.76,215.69 M83.46,214.92 L86.06,214.92 M83.46,215.69 L86.06,215.69" stroke="#707070" stroke-width="0.75"/>
<path d="M94.61,214.92 L94.61,215.69 M93.31,214.92 L95.91,214.92 M93.31,215.69 L95.91,215.69" stroke="#707070" stroke-width="0.75"/>
<path d="M104.46,214.92 L104.46,215.69 M103.16,214.92 L105.76,214.92 M103.16,215.69 L105.76,215.69" stroke="#707070" stroke-width="0.75"/>
<path d="M114.31,214.92 L114.31,215.69 M113.01,214.92 L115.61,214.92 M113.01,215.69 L115.61,215.69" stroke="#707070" stroke-width="0.75"/>
<path d="M124.16,214.92 L124.16,215.69 M122.86,214.92 L125.46,214.92 M122.86,215.69 L125.46,215.69" stroke="#707070" stroke-width="0.75"/>
<path d="M134.02,214.74 L134.02,215.58 M132.72,214.74 L135.32,214.74 M132.72,215.58 L135.32,215.58" stroke="#707070" stroke-width="0.75"/>
<path d="M143.87,214.74 L143.87,215.58 M142.57,214.74 L145.17,214.74 M142.57,215.58 L145.17,215.58" stroke="#707070" stroke-width="0.75"/>
<path d="M153.72,214.58 L153.72,215.45 M152.42,214.58 L155.02,214.58 M152.42,215.45 L155.02,215.45" stroke="#707070" stroke-width="0.75"/>
<path d="M178.35,214.27 L178.35,215.18 M177.05,214.27 L179.65,214.27 M177.05,215.18 L179.65,215.18" stroke="#707070" stroke-width="0.75"/>
<path d="M202.98,213.06 L202.98,214.07 M201.68,213.06 L204.28,213.06 M201.68,214.07 L204.28,214.07" stroke="#707070" stroke-width="0.75"/>
<path d="M252.24,210.10 L252.24,211.26 M250.94,210.10 L253.54,210.10 M250.94,211.26 L253.54,211.26" stroke="#707070" stroke-width="0.75"/>
<path d="M301.50,204.38 L301.50,205.72 M300.20,204.38 L302.80,204.38 M300.20,205.72 L302.80,205.72" stroke="#707070" stroke-width="0.75"/>
<path d="M55.20,70.90 L301.50,70.90" stroke="#595959" stroke-width="1.1"/>
<path d="M301.50,70.90 L301.50,216.30" stroke="#262626" stroke-width="1.1"/>
<path d="M383.40,76.20 L383.40,221.10" stroke="#D9D9D9" stroke-width="1"/>
<path d="M380.90,221.10 L383.40,221.10" stroke="#D9D9D9" stroke-width="1"/>
<path d="M380.90,213.85 L383.40,213.85" stroke="#D9D9D9" stroke-width="1"/>
<path d="M380.90,206.61 L383.40,206.61" stroke="#D9D9D9" stroke-width="1"/>
<path d="M380.90,199.37 L383.40,199.37" stroke="#D9D9D9" stroke-width="1"/>
<path d="M380.90,192.12 L383.40,192.12" stroke="#D9D9D9" stroke-width="1"/>
<path d="M380.90,184.88 L383.40,184.88" stroke="#D9D9D9" stroke-width="1"/>
<path d="M380.90,177.63 L383.40,177.63" stroke="#D9D9D9" stroke-width="1"/>
<path d="M380.90,170.38 L383.40,170.38" stroke="#D9D9D9" stroke-width="1"/>
<path d="M380.90,163.14 L383.40,163.14" stroke="#D9D9D9" stroke-width="1"/>
<path d="M380.90,155.89 L383.40,155.89" stroke="#D9D9D9" stroke-width="1"/>
<path d="M380.90,148.65 L383.40,148.65" stroke="#D9D9D9" stroke-width="1"/>
<path d="M380.90,141.41 L383.40,141.41" stroke="#D9D9D9" stroke-width="1"/>
<path d="M380.90,134.16 L383.40,134.16" stroke="#D9D9D9" stroke-width="1"/>
<path d="M380.90,126.92 L383.40,126.92" stroke="#D9D9D9" stroke-width="1"/>
<path d="M380.90,119.67 L383.40,119.67" stroke="#D9D9D9" stroke-width="1"/>
<path d="M380.90,112.43 L383.40,112.43" stroke="#D9D9D9" stroke-width="1"/>
<path d="M380.90,105.18 L383.40,105.18" stroke="#D9D9D9" stroke-width="1"/>
<path d="M380.90,97.94 L383.40,97.94" stroke="#D9D9D9" stroke-width="1"/>
<path d="M380.90,90.69 L383.40,90.69" stroke="#D9D9D9" stroke-width="1"/>
<path d="M380.90,83.44 L383.40,83.44" stroke="#D9D9D9" stroke-width="1"/>
<path d="M380.90,76.20 L383.40,76.20" stroke="#D9D9D9" stroke-width="1"/>
<path d="M383.40,221.10 L637.30,221.10" stroke="#D9D9D9" stroke-width="1"/>
<path d="M383.40,221.10 L383.40,223.60" stroke="#D9D9D9" stroke-width="1"/>
<path d="M393.56,221.10 L393.56,223.60" stroke="#D9D9D9" stroke-width="1"/>
<path d="M403.71,221.10 L403.71,223.60" stroke="#D9D9D9" stroke-width="1"/>
<path d="M413.87,221.10 L413.87,223.60" stroke="#D9D9D9" stroke-width="1"/>
<path d="M424.02,221.10 L424.02,223.60" stroke="#D9D9D9" stroke-width="1"/>
<path d="M434.18,221.10 L434.18,223.60" stroke="#D9D9D9" stroke-width="1"/>
<path d="M444.34,221.10 L444.34,223.60" stroke="#D9D9D9" stroke-width="1"/>
<path d="M454.49,221.10 L454.49,223.60" stroke="#D9D9D9" stroke-width="1"/>
<path d="M464.65,221.10 L464.65,223.60" stroke="#D9D9D9" stroke-width="1"/>
<path d="M474.80,221.10 L474.80,223.60" stroke="#D9D9D9" stroke-width="1"/>
<path d="M484.96,221.10 L484.96,223.60" stroke="#D9D9D9" stroke-width="1"/>
<path d="M495.12,221.10 L495.12,223.60" stroke="#D9D9D9" stroke-width="1"/>
<path d="M505.27,221.10 L505.27,223.60" stroke="#D9D9D9" stroke-width="1"/>
<path d="M515.43,221.10 L515.43,223.60" stroke="#D9D9D9" stroke-width="1"/>
<path d="M525.58,221.10 L525.58,223.60" stroke="#D9D9D9" stroke-width="1"/>
<path d="M535.74,221.10 L535.74,223.60" stroke="#D9D9D9" stroke-width="1"/>
<path d="M545.90,221.10 L545.90,223.60" stroke="#D9D9D9" stroke-width="1"/>
<path d="M556.05,221.10 L556.05,223.60" stroke="#D9D9D9" stroke-width="1"/>
<path d="M566.21,221.10 L566.21,223.60" stroke="#D9D9D9" stroke-width="1"/>
<path d="M576.36,221.10 L576.36,223.60" stroke="#D9D9D9" stroke-width="1"/>
<path d="M586.52,221.10 L586.52,223.60" stroke="#D9D9D9" stroke-width="1"/>
<path d="M596.68,221.10 L596.68,223.60" stroke="#D9D9D9" stroke-width="1"/>
<path d="M606.83,221.10 L606.83,223.60" stroke="#D9D9D9" stroke-width="1"/>
<path d="M616.99,221.10 L616.99,223.60" stroke="#D9D9D9" stroke-width="1"/>
<path d="M627.14,221.10 L627.14,223.60" stroke="#D9D9D9" stroke-width="1"/>
<path d="M637.30,221.10 L637.30,223.60" stroke="#D9D9D9" stroke-width="1"/>
<path d="M383.40,76.20 C384.25,80.47 386.79,94.12 388.48,101.85 C390.17,109.58 391.02,114.12 393.56,122.57 C396.09,131.02 400.33,144.40 403.71,152.56 C407.10,160.72 410.48,166.23 413.87,171.54 C417.25,176.86 420.64,180.96 424.02,184.44 C427.41,187.92 430.79,189.87 434.18,192.41 C437.57,194.95 440.95,197.72 444.34,199.65 C447.72,201.59 451.11,202.55 454.49,204.00 C457.88,205.45 461.26,207.31 464.65,208.35 C468.03,209.39 471.42,209.60 474.80,210.23 C478.19,210.86 479.04,211.25 484.96,212.12 C490.88,212.99 501.89,214.63 510.35,215.45 C518.81,216.27 523.04,216.39 535.74,217.04 C548.44,217.69 569.59,218.88 586.52,219.36 C603.45,219.84 628.84,219.84 637.30,219.94" fill="none" stroke="#5B9BD5" stroke-width="1.1"/>
<path d="M383.40,221.10 C384.25,217.12 386.79,203.57 388.48,197.19 C390.17,190.82 391.02,186.78 393.56,182.85 C396.09,178.91 400.33,175.02 403.71,173.57 C407.10,172.12 410.48,173.23 413.87,174.15 C417.25,175.07 420.64,177.29 424.02,179.08 C427.41,180.87 430.79,183.18 434.18,184.88 C437.57,186.57 440.95,187.60 444.34,189.22 C447.72,190.84 451.11,192.89 454.49,194.58 C457.88,196.27 461.26,198.09 464.65,199.37 C468.03,200.64 471.42,201.37 474.80,202.26 C478.19,203.16 479.04,203.62 484.96,204.73 C490.88,205.84 501.89,207.67 510.35,208.93 C518.81,210.18 523.04,211.17 535.74,212.26 C548.44,213.35 569.59,214.60 586.52,215.45 C603.45,216.29 628.84,217.02 637.30,217.33" fill="none" stroke="#ED7D31" stroke-width="1.1"/>
<path d="M383.40,221.10 C384.25,220.81 386.79,220.98 388.48,219.36 C390.17,217.74 391.02,214.46 393.56,211.39 C396.09,208.32 400.33,203.93 403.71,200.96 C407.10,197.99 410.48,195.28 413.87,193.57 C417.25,191.85 420.64,191.27 424.02,190.67 C427.41,190.07 430.79,190.02 434.18,189.95 C437.57,189.87 440.95,189.87 444.34,190.24 C447.72,190.60 451.11,191.52 454.49,192.12 C457.88,192.72 461.26,193.18 464.65,193.86 C468.03,194.53 471.42,195.45 474.80,196.18 C478.19,196.90 479.04,196.95 484.96,198.21 C490.88,199.46 501.89,201.95 510.35,203.71 C518.81,205.47 523.04,207.26 535.74,208.78 C548.44,210.30 569.59,211.63 586.52,212.84 C603.45,214.05 628.84,215.50 637.30,216.03" fill="none" stroke="#A5A5A5" stroke-width="1.1"/>
<path d="M383.40,221.10 C384.25,221.08 386.79,221.10 388.48,220.96 C390.17,220.81 391.02,221.29 393.56,220.23 C396.09,219.17 400.33,216.63 403.71,214.58 C407.10,212.53 410.48,209.94 413.87,207.91 C417.25,205.89 420.64,204.00 424.02,202.41 C427.41,200.81 430.79,199.34 434.18,198.35 C437.57,197.36 440.95,196.83 444.34,196.47 C447.72,196.10 451.11,196.08 454.49,196.18 C457.88,196.27 461.26,196.78 464.65,197.05 C468.03,197.31 471.42,197.58 474.80,197.77 C478.19,197.96 479.04,197.41 484.96,198.21 C490.88,199.00 501.89,200.91 510.35,202.55 C518.81,204.19 523.04,206.56 535.74,208.06 C548.44,209.56 569.59,210.55 586.52,211.54 C603.45,212.53 628.84,213.59 637.30,214.00" fill="none" stroke="#FFC000" stroke-width="1.1"/>
<path d="M383.40,221.10 C384.25,221.10 386.79,221.12 388.48,221.10 C390.17,221.08 391.02,221.27 393.56,220.96 C396.09,220.64 400.33,220.01 403.71,219.22 C407.10,218.42 410.48,217.43 413.87,216.17 C417.25,214.92 420.64,213.08 424.02,211.68 C427.41,210.28 430.79,209.02 434.18,207.77 C437.57,206.51 440.95,205.14 444.34,204.15 C447.72,203.16 451.11,202.38 454.49,201.83 C457.88,201.27 461.26,201.06 464.65,200.81 C468.03,200.57 471.42,200.36 474.80,200.38 C478.19,200.40 479.04,200.52 484.96,200.96 C490.88,201.39 501.89,202.24 510.35,202.99 C518.81,203.74 523.04,204.24 535.74,205.45 C548.44,206.66 569.59,208.90 586.52,210.23 C603.45,211.56 628.84,212.89 637.30,213.42" fill="none" stroke="#4472C4" stroke-width="1.1"/>
<path d="M383.40,221.10 C384.25,221.10 386.79,221.10 388.48,221.10 C390.17,221.10 391.02,221.17 393.56,221.10 C396.09,221.03 400.33,220.91 403.71,220.67 C407.10,220.42 410.48,220.21 413.87,219.65 C417.25,219.10 420.64,218.30 424.02,217.33 C427.41,216.37 430.79,215.01 434.18,213.85 C437.57,212.70 440.95,211.51 444.34,210.38 C447.72,209.24 451.11,207.94 454.49,207.04 C457.88,206.15 461.26,205.57 464.65,205.02 C468.03,204.46 471.42,204.05 474.80,203.71 C478.19,203.37 479.04,203.04 484.96,202.99 C490.88,202.94 501.89,203.11 510.35,203.42 C518.81,203.74 523.04,203.81 535.74,204.87 C548.44,205.93 569.59,208.47 586.52,209.80 C603.45,211.13 628.84,212.33 637.30,212.84" fill="none" stroke="#70AD47" stroke-width="1.1"/>
<path d="M383.40,221.10 C384.25,221.10 386.79,221.10 388.48,221.10 C390.17,221.10 391.02,221.12 393.56,221.10 C396.09,221.08 400.33,221.03 403.71,220.96 C407.10,220.88 410.48,220.83 413.87,220.67 C417.25,220.50 420.64,220.35 424.02,219.94 C427.41,219.53 430.79,219.10 434.18,218.20 C437.57,217.31 440.95,215.67 444.34,214.58 C447.72,213.49 451.11,212.53 454.49,211.68 C457.88,210.84 461.26,210.16 464.65,209.51 C468.03,208.86 471.42,208.25 474.80,207.77 C478.19,207.29 479.04,207.04 484.96,206.61 C490.88,206.18 501.89,205.28 510.35,205.16 C518.81,205.04 523.04,205.16 535.74,205.89 C548.44,206.61 569.59,208.25 586.52,209.51 C603.45,210.76 628.84,212.77 637.30,213.42" fill="none" stroke="#255E91" stroke-width="1.1"/>
<path d="M383.40,221.10 C384.25,221.10 386.79,221.10 388.48,221.10 C390.17,221.10 391.02,221.10 393.56,221.10 C396.09,221.10 400.33,221.12 403.71,221.10 C407.10,221.08 410.48,221.03 413.87,220.96 C417.25,220.88 420.64,220.88 424.02,220.67 C427.41,220.45 430.79,220.25 434.18,219.65 C437.57,219.05 440.95,217.65 444.34,217.04 C447.72,216.44 451.11,216.61 454.49,216.03 C457.88,215.45 461.26,214.24 464.65,213.57 C468.03,212.89 471.42,212.33 474.80,211.97 C478.19,211.61 479.04,211.92 484.96,211.39 C490.88,210.86 501.89,209.46 510.35,208.78 C518.81,208.11 523.04,207.31 535.74,207.33 C548.44,207.36 569.59,208.30 586.52,208.93 C603.45,209.56 628.84,210.74 637.30,211.10" fill="none" stroke="#9E480E" stroke-width="1.1"/>
<path d="M383.40,221.10 C384.25,221.10 386.79,221.10 388.48,221.10 C390.17,221.10 391.02,221.10 393.56,221.10 C396.09,221.10 400.33,221.10 403.71,221.10 C407.10,221.10 410.48,221.12 413.87,221.10 C417.25,221.08 420.64,221.08 424.02,220.96 C427.41,220.83 430.79,220.67 434.18,220.38 C437.57,220.09 440.95,219.72 444.34,219.22 C447.72,218.71 451.11,218.08 454.49,217.33 C457.88,216.58 461.26,216.03 464.65,214.72 C468.03,213.42 471.42,211.15 474.80,209.51 C478.19,207.87 479.04,208.18 484.96,204.87 C490.88,201.56 501.89,194.73 510.35,189.66 C518.81,184.59 523.04,181.64 535.74,174.44 C548.44,167.25 569.59,154.40 586.52,146.48 C603.45,138.56 628.84,130.18 637.30,126.92" fill="none" stroke="#636363" stroke-width="1.1"/>
<rect x="381.50" y="74.30" width="3.80" height="3.80" fill="none" stroke="#5B9BD5" stroke-width="0.9"/>
<rect x="386.58" y="99.95" width="3.80" height="3.80" fill="none" stroke="#5B9BD5" stroke-width="0.9"/>
<rect x="391.66" y="120.67" width="3.80" height="3.80" fill="none" stroke="#5B9BD5" stroke-width="0.9"/>
<rect x="401.81" y="150.66" width="3.80" height="3.80" fill="none" stroke="#5B9BD5" stroke-width="0.9"/>
<rect x="411.97" y="169.64" width="3.80" height="3.80" fill="none" stroke="#5B9BD5" stroke-width="0.9"/>
<rect x="422.12" y="182.54" width="3.80" height="3.80" fill="none" stroke="#5B9BD5" stroke-width="0.9"/>
<rect x="432.28" y="190.51" width="3.80" height="3.80" fill="none" stroke="#5B9BD5" stroke-width="0.9"/>
<rect x="442.44" y="197.75" width="3.80" height="3.80" fill="none" stroke="#5B9BD5" stroke-width="0.9"/>
<rect x="452.59" y="202.10" width="3.80" height="3.80" fill="none" stroke="#5B9BD5" stroke-width="0.9"/>
<rect x="462.75" y="206.45" width="3.80" height="3.80" fill="none" stroke="#5B9BD5" stroke-width="0.9"/>
<rect x="472.90" y="208.33" width="3.80" height="3.80" fill="none" stroke="#5B9BD5" stroke-width="0.9"/>
<rect x="483.06" y="210.22" width="3.80" height="3.80" fill="none" stroke="#5B9BD5" stroke-width="0.9"/>
<rect x="508.45" y="213.55" width="3.80" height="3.80" fill="none" stroke="#5B9BD5" stroke-width="0.9"/>
<rect x="533.84" y="215.14" width="3.80" height="3.80" fill="none" stroke="#5B9BD5" stroke-width="0.9"/>
<rect x="584.62" y="217.46" width="3.80" height="3.80" fill="none" stroke="#5B9BD5" stroke-width="0.9"/>
<rect x="635.40" y="218.04" width="3.80" height="3.80" fill="none" stroke="#5B9BD5" stroke-width="0.9"/>
<path d="M383.40,218.80 L385.70,221.10 L383.40,223.40 L381.10,221.10 Z" fill="none" stroke="#ED7D31" stroke-width="0.9"/>
<path d="M388.48,194.89 L390.78,197.19 L388.48,199.49 L386.18,197.19 Z" fill="none" stroke="#ED7D31" stroke-width="0.9"/>
<path d="M393.56,180.55 L395.86,182.85 L393.56,185.15 L391.26,182.85 Z" fill="none" stroke="#ED7D31" stroke-width="0.9"/>
<path d="M403.71,171.27 L406.01,173.57 L403.71,175.87 L401.41,173.57 Z" fill="none" stroke="#ED7D31" stroke-width="0.9"/>
<path d="M413.87,171.85 L416.17,174.15 L413.87,176.45 L411.57,174.15 Z" fill="none" stroke="#ED7D31" stroke-width="0.9"/>
<path d="M424.02,176.78 L426.32,179.08 L424.02,181.38 L421.72,179.08 Z" fill="none" stroke="#ED7D31" stroke-width="0.9"/>
<path d="M434.18,182.57 L436.48,184.88 L434.18,187.18 L431.88,184.88 Z" fill="none" stroke="#ED7D31" stroke-width="0.9"/>
<path d="M444.34,186.92 L446.64,189.22 L444.34,191.52 L442.04,189.22 Z" fill="none" stroke="#ED7D31" stroke-width="0.9"/>
<path d="M454.49,192.28 L456.79,194.58 L454.49,196.88 L452.19,194.58 Z" fill="none" stroke="#ED7D31" stroke-width="0.9"/>
<path d="M464.65,197.06 L466.95,199.37 L464.65,201.67 L462.35,199.37 Z" fill="none" stroke="#ED7D31" stroke-width="0.9"/>
<path d="M474.80,199.96 L477.10,202.26 L474.80,204.56 L472.50,202.26 Z" fill="none" stroke="#ED7D31" stroke-width="0.9"/>
<path d="M484.96,202.43 L487.26,204.73 L484.96,207.03 L482.66,204.73 Z" fill="none" stroke="#ED7D31" stroke-width="0.9"/>
<path d="M510.35,206.63 L512.65,208.93 L510.35,211.23 L508.05,208.93 Z" fill="none" stroke="#ED7D31" stroke-width="0.9"/>
<path d="M535.74,209.96 L538.04,212.26 L535.74,214.56 L533.44,212.26 Z" fill="none" stroke="#ED7D31" stroke-width="0.9"/>
<path d="M586.52,213.15 L588.82,215.45 L586.52,217.75 L584.22,215.45 Z" fill="none" stroke="#ED7D31" stroke-width="0.9"/>
<path d="M637.30,215.03 L639.60,217.33 L637.30,219.63 L635.00,217.33 Z" fill="none" stroke="#ED7D31" stroke-width="0.9"/>
<path d="M383.40,218.90 L385.50,222.70 L381.30,222.70 Z" fill="none" stroke="#A5A5A5" stroke-width="0.9"/>
<path d="M388.48,217.16 L390.58,220.96 L386.38,220.96 Z" fill="none" stroke="#A5A5A5" stroke-width="0.9"/>
<path d="M393.56,209.19 L395.66,212.99 L391.46,212.99 Z" fill="none" stroke="#A5A5A5" stroke-width="0.9"/>
<path d="M403.71,198.76 L405.81,202.56 L401.61,202.56 Z" fill="none" stroke="#A5A5A5" stroke-width="0.9"/>
<path d="M413.87,191.37 L415.97,195.17 L411.77,195.17 Z" fill="none" stroke="#A5A5A5" stroke-width="0.9"/>
<path d="M424.02,188.47 L426.12,192.27 L421.92,192.27 Z" fill="none" stroke="#A5A5A5" stroke-width="0.9"/>
<path d="M434.18,187.75 L436.28,191.55 L432.08,191.55 Z" fill="none" stroke="#A5A5A5" stroke-width="0.9"/>
<path d="M444.34,188.04 L446.44,191.84 L442.24,191.84 Z" fill="none" stroke="#A5A5A5" stroke-width="0.9"/>
<path d="M454.49,189.92 L456.59,193.72 L452.39,193.72 Z" fill="none" stroke="#A5A5A5" stroke-width="0.9"/>
<path d="M464.65,191.66 L466.75,195.46 L462.55,195.46 Z" fill="none" stroke="#A5A5A5" stroke-width="0.9"/>
<path d="M474.80,193.98 L476.90,197.78 L472.70,197.78 Z" fill="none" stroke="#A5A5A5" stroke-width="0.9"/>
<path d="M484.96,196.01 L487.06,199.81 L482.86,199.81 Z" fill="none" stroke="#A5A5A5" stroke-width="0.9"/>
<path d="M510.35,201.51 L512.45,205.31 L508.25,205.31 Z" fill="none" stroke="#A5A5A5" stroke-width="0.9"/>
<path d="M535.74,206.58 L537.84,210.38 L533.64,210.38 Z" fill="none" stroke="#A5A5A5" stroke-width="0.9"/>
<path d="M586.52,210.64 L588.62,214.44 L584.42,214.44 Z" fill="none" stroke="#A5A5A5" stroke-width="0.9"/>
<path d="M637.30,213.83 L639.40,217.63 L635.20,217.63 Z" fill="none" stroke="#A5A5A5" stroke-width="0.9"/>
<path d="M381.50,219.20 L385.30,223.00 M385.30,219.20 L381.50,223.00" stroke="#FFC000" stroke-width="1"/>
<path d="M386.58,219.06 L390.38,222.86 M390.38,219.06 L386.58,222.86" stroke="#FFC000" stroke-width="1"/>
<path d="M391.66,218.33 L395.46,222.13 M395.46,218.33 L391.66,222.13" stroke="#FFC000" stroke-width="1"/>
<path d="M401.81,212.68 L405.61,216.48 M405.61,212.68 L401.81,216.48" stroke="#FFC000" stroke-width="1"/>
<path d="M411.97,206.01 L415.77,209.81 M415.77,206.01 L411.97,209.81" stroke="#FFC000" stroke-width="1"/>
<path d="M422.12,200.51 L425.92,204.31 M425.92,200.51 L422.12,204.31" stroke="#FFC000" stroke-width="1"/>
<path d="M432.28,196.45 L436.08,200.25 M436.08,196.45 L432.28,200.25" stroke="#FFC000" stroke-width="1"/>
<path d="M442.44,194.57 L446.24,198.37 M446.24,194.57 L442.44,198.37" stroke="#FFC000" stroke-width="1"/>
<path d="M452.59,194.28 L456.39,198.08 M456.39,194.28 L452.59,198.08" stroke="#FFC000" stroke-width="1"/>
<path d="M462.75,195.15 L466.55,198.95 M466.55,195.15 L462.75,198.95" stroke="#FFC000" stroke-width="1"/>
<path d="M472.90,195.87 L476.70,199.67 M476.70,195.87 L472.90,199.67" stroke="#FFC000" stroke-width="1"/>
<path d="M483.06,196.31 L486.86,200.11 M486.86,196.31 L483.06,200.11" stroke="#FFC000" stroke-width="1"/>
<path d="M508.45,200.65 L512.25,204.45 M512.25,200.65 L508.45,204.45" stroke="#FFC000" stroke-width="1"/>
<path d="M533.84,206.16 L537.64,209.96 M537.64,206.16 L533.84,209.96" stroke="#FFC000" stroke-width="1"/>
<path d="M584.62,209.64 L588.42,213.44 M588.42,209.64 L584.62,213.44" stroke="#FFC000" stroke-width="1"/>
<path d="M635.40,212.10 L639.20,215.90 M639.20,212.10 L635.40,215.90" stroke="#FFC000" stroke-width="1"/>
<path d="M381.50,219.20 L385.30,223.00 M385.30,219.20 L381.50,223.00 M381.50,221.10 L385.30,221.10" stroke="#4472C4" stroke-width="1.1"/>
<path d="M386.58,219.20 L390.38,223.00 M390.38,219.20 L386.58,223.00 M386.58,221.10 L390.38,221.10" stroke="#4472C4" stroke-width="1.1"/>
<path d="M391.66,219.06 L395.46,222.86 M395.46,219.06 L391.66,222.86 M391.66,220.96 L395.46,220.96" stroke="#4472C4" stroke-width="1.1"/>
<path d="M401.81,217.32 L405.61,221.12 M405.61,217.32 L401.81,221.12 M401.81,219.22 L405.61,219.22" stroke="#4472C4" stroke-width="1.1"/>
<path d="M411.97,214.27 L415.77,218.07 M415.77,214.27 L411.97,218.07 M411.97,216.17 L415.77,216.17" stroke="#4472C4" stroke-width="1.1"/>
<path d="M422.12,209.78 L425.92,213.58 M425.92,209.78 L422.12,213.58 M422.12,211.68 L425.92,211.68" stroke="#4472C4" stroke-width="1.1"/>
<path d="M432.28,205.87 L436.08,209.67 M436.08,205.87 L432.28,209.67 M432.28,207.77 L436.08,207.77" stroke="#4472C4" stroke-width="1.1"/>
<path d="M442.44,202.25 L446.24,206.05 M446.24,202.25 L442.44,206.05 M442.44,204.15 L446.24,204.15" stroke="#4472C4" stroke-width="1.1"/>
<path d="M452.59,199.93 L456.39,203.73 M456.39,199.93 L452.59,203.73 M452.59,201.83 L456.39,201.83" stroke="#4472C4" stroke-width="1.1"/>
<path d="M462.75,198.91 L466.55,202.71 M466.55,198.91 L462.75,202.71 M462.75,200.81 L466.55,200.81" stroke="#4472C4" stroke-width="1.1"/>
<path d="M472.90,198.48 L476.70,202.28 M476.70,198.48 L472.90,202.28 M472.90,200.38 L476.70,200.38" stroke="#4472C4" stroke-width="1.1"/>
<path d="M483.06,199.06 L486.86,202.86 M486.86,199.06 L483.06,202.86 M483.06,200.96 L486.86,200.96" stroke="#4472C4" stroke-width="1.1"/>
<path d="M508.45,201.09 L512.25,204.89 M512.25,201.09 L508.45,204.89 M508.45,202.99 L512.25,202.99" stroke="#4472C4" stroke-width="1.1"/>
<path d="M533.84,203.55 L537.64,207.35 M537.64,203.55 L533.84,207.35 M533.84,205.45 L537.64,205.45" stroke="#4472C4" stroke-width="1.1"/>
<path d="M584.62,208.33 L588.42,212.13 M588.42,208.33 L584.62,212.13 M584.62,210.23 L588.42,210.23" stroke="#4472C4" stroke-width="1.1"/>
<path d="M635.40,211.52 L639.20,215.32 M639.20,211.52 L635.40,215.32 M635.40,213.42 L639.20,213.42" stroke="#4472C4" stroke-width="1.1"/>
<path d="M382.20,221.10 L384.60,221.10" stroke="#70AD47" stroke-width="1.4"/>
<path d="M387.28,221.10 L389.68,221.10" stroke="#70AD47" stroke-width="1.4"/>
<path d="M392.36,221.10 L394.76,221.10" stroke="#70AD47" stroke-width="1.4"/>
<path d="M402.51,220.67 L404.91,220.67" stroke="#70AD47" stroke-width="1.4"/>
<path d="M412.67,219.65 L415.07,219.65" stroke="#70AD47" stroke-width="1.4"/>
<path d="M422.82,217.33 L425.22,217.33" stroke="#70AD47" stroke-width="1.4"/>
<path d="M432.98,213.85 L435.38,213.85" stroke="#70AD47" stroke-width="1.4"/>
<path d="M443.14,210.38 L445.54,210.38" stroke="#70AD47" stroke-width="1.4"/>
<path d="M453.29,207.04 L455.69,207.04" stroke="#70AD47" stroke-width="1.4"/>
<path d="M463.45,205.02 L465.85,205.02" stroke="#70AD47" stroke-width="1.4"/>
<path d="M473.60,203.71 L476.00,203.71" stroke="#70AD47" stroke-width="1.4"/>
<path d="M483.76,202.99 L486.16,202.99" stroke="#70AD47" stroke-width="1.4"/>
<path d="M509.15,203.42 L511.55,203.42" stroke="#70AD47" stroke-width="1.4"/>
<path d="M534.54,204.87 L536.94,204.87" stroke="#70AD47" stroke-width="1.4"/>
<path d="M585.32,209.80 L587.72,209.80" stroke="#70AD47" stroke-width="1.4"/>
<path d="M636.10,212.84 L638.50,212.84" stroke="#70AD47" stroke-width="1.4"/>
<path d="M381.50,221.10 L385.30,221.10 M383.40,219.20 L383.40,223.00" stroke="#255E91" stroke-width="1"/>
<path d="M386.58,221.10 L390.38,221.10 M388.48,219.20 L388.48,223.00" stroke="#255E91" stroke-width="1"/>
<path d="M391.66,221.10 L395.46,221.10 M393.56,219.20 L393.56,223.00" stroke="#255E91" stroke-width="1"/>
<path d="M401.81,220.96 L405.61,220.96 M403.71,219.06 L403.71,222.86" stroke="#255E91" stroke-width="1"/>
<path d="M411.97,220.67 L415.77,220.67 M413.87,218.77 L413.87,222.57" stroke="#255E91" stroke-width="1"/>
<path d="M422.12,219.94 L425.92,219.94 M424.02,218.04 L424.02,221.84" stroke="#255E91" stroke-width="1"/>
<path d="M432.28,218.20 L436.08,218.20 M434.18,216.30 L434.18,220.10" stroke="#255E91" stroke-width="1"/>
<path d="M442.44,214.58 L446.24,214.58 M444.34,212.68 L444.34,216.48" stroke="#255E91" stroke-width="1"/>
<path d="M452.59,211.68 L456.39,211.68 M454.49,209.78 L454.49,213.58" stroke="#255E91" stroke-width="1"/>
<path d="M462.75,209.51 L466.55,209.51 M464.65,207.61 L464.65,211.41" stroke="#255E91" stroke-width="1"/>
<path d="M472.90,207.77 L476.70,207.77 M474.80,205.87 L474.80,209.67" stroke="#255E91" stroke-width="1"/>
<path d="M483.06,206.61 L486.86,206.61 M484.96,204.71 L484.96,208.51" stroke="#255E91" stroke-width="1"/>
<path d="M508.45,205.16 L512.25,205.16 M510.35,203.26 L510.35,207.06" stroke="#255E91" stroke-width="1"/>
<path d="M533.84,205.89 L537.64,205.89 M535.74,203.99 L535.74,207.79" stroke="#255E91" stroke-width="1"/>
<path d="M584.62,209.51 L588.42,209.51 M586.52,207.61 L586.52,211.41" stroke="#255E91" stroke-width="1"/>
<path d="M635.40,213.42 L639.20,213.42 M637.30,211.52 L637.30,215.32" stroke="#255E91" stroke-width="1"/>
<path d="M381.00,221.10 L385.80,221.10" stroke="#9E480E" stroke-width="1.8"/>
<path d="M386.08,221.10 L390.88,221.10" stroke="#9E480E" stroke-width="1.8"/>
<path d="M391.16,221.10 L395.96,221.10" stroke="#9E480E" stroke-width="1.8"/>
<path d="M401.31,221.10 L406.11,221.10" stroke="#9E480E" stroke-width="1.8"/>
<path d="M411.47,220.96 L416.27,220.96" stroke="#9E480E" stroke-width="1.8"/>
<path d="M421.62,220.67 L426.42,220.67" stroke="#9E480E" stroke-width="1.8"/>
<path d="M431.78,219.65 L436.58,219.65" stroke="#9E480E" stroke-width="1.8"/>
<path d="M441.94,217.04 L446.74,217.04" stroke="#9E480E" stroke-width="1.8"/>
<path d="M452.09,216.03 L456.89,216.03" stroke="#9E480E" stroke-width="1.8"/>
<path d="M462.25,213.57 L467.05,213.57" stroke="#9E480E" stroke-width="1.8"/>
<path d="M472.40,211.97 L477.20,211.97" stroke="#9E480E" stroke-width="1.8"/>
<path d="M482.56,211.39 L487.36,211.39" stroke="#9E480E" stroke-width="1.8"/>
<path d="M507.95,208.78 L512.75,208.78" stroke="#9E480E" stroke-width="1.8"/>
<path d="M533.34,207.33 L538.14,207.33" stroke="#9E480E" stroke-width="1.8"/>
<path d="M584.12,208.93 L588.92,208.93" stroke="#9E480E" stroke-width="1.8"/>
<path d="M634.90,211.10 L639.70,211.10" stroke="#9E480E" stroke-width="1.8"/>
<circle cx="383.40" cy="221.10" r="1.90" fill="none" stroke="#636363" stroke-width="0.9"/>
<circle cx="388.48" cy="221.10" r="1.90" fill="none" stroke="#636363" stroke-width="0.9"/>
<circle cx="393.56" cy="221.10" r="1.90" fill="none" stroke="#636363" stroke-width="0.9"/>
<circle cx="403.71" cy="221.10" r="1.90" fill="none" stroke="#636363" stroke-width="0.9"/>
<circle cx="413.87" cy="221.10" r="1.90" fill="none" stroke="#636363" stroke-width="0.9"/>
<circle cx="424.02" cy="220.96" r="1.90" fill="none" stroke="#636363" stroke-width="0.9"/>
<circle cx="434.18" cy="220.38" r="1.90" fill="none" stroke="#636363" stroke-width="0.9"/>
<circle cx="444.34" cy="219.22" r="1.90" fill="none" stroke="#636363" stroke-width="0.9"/>
<circle cx="454.49" cy="217.33" r="1.90" fill="none" stroke="#636363" stroke-width="0.9"/>
<circle cx="464.65" cy="214.72" r="1.90" fill="none" stroke="#636363" stroke-width="0.9"/>
<circle cx="474.80" cy="209.51" r="1.90" fill="none" stroke="#636363" stroke-width="0.9"/>
<circle cx="484.96" cy="204.87" r="1.90" fill="none" stroke="#636363" stroke-width="0.9"/>
<circle cx="510.35" cy="189.66" r="1.90" fill="none" stroke="#636363" stroke-width="0.9"/>
<circle cx="535.74" cy="174.44" r="1.90" fill="none" stroke="#636363" stroke-width="0.9"/>
<circle cx="586.52" cy="146.48" r="1.90" fill="none" stroke="#636363" stroke-width="0.9"/>
<circle cx="637.30" cy="126.92" r="1.90" fill="none" stroke="#636363" stroke-width="0.9"/>
<path d="M388.48,99.36 L388.48,104.33 M386.88,99.36 L390.08,99.36 M386.88,104.33 L390.08,104.33" stroke="#707070" stroke-width="0.75"/>
<path d="M393.56,119.79 L393.56,125.34 M391.96,119.79 L395.16,119.79 M391.96,125.34 L395.16,125.34" stroke="#707070" stroke-width="0.75"/>
<path d="M403.71,149.67 L403.71,155.45 M402.11,149.67 L405.31,149.67 M402.11,155.45 L405.31,155.45" stroke="#707070" stroke-width="0.75"/>
<path d="M413.87,168.74 L413.87,174.35 M412.27,168.74 L415.47,168.74 M412.27,174.35 L415.47,174.35" stroke="#707070" stroke-width="0.75"/>
<path d="M424.02,181.77 L424.02,187.11 M422.42,181.77 L425.62,181.77 M422.42,187.11 L425.62,187.11" stroke="#707070" stroke-width="0.75"/>
<path d="M434.18,189.86 L434.18,194.95 M432.58,189.86 L435.78,189.86 M432.58,194.95 L435.78,194.95" stroke="#707070" stroke-width="0.75"/>
<path d="M444.34,197.26 L444.34,202.05 M442.74,197.26 L445.94,197.26 M442.74,202.05 L445.94,202.05" stroke="#707070" stroke-width="0.75"/>
<path d="M454.49,201.71 L454.49,206.29 M452.89,201.71 L456.09,201.71 M452.89,206.29 L456.09,206.29" stroke="#707070" stroke-width="0.75"/>
<path d="M464.65,206.20 L464.65,210.50 M463.05,206.20 L466.25,206.20 M463.05,210.50 L466.25,210.50" stroke="#707070" stroke-width="0.75"/>
<path d="M474.80,208.15 L474.80,212.32 M473.20,208.15 L476.40,208.15 M473.20,212.32 L476.40,212.32" stroke="#707070" stroke-width="0.75"/>
<path d="M484.96,210.11 L484.96,214.13 M483.36,210.11 L486.56,210.11 M483.36,214.13 L486.56,214.13" stroke="#707070" stroke-width="0.75"/>
<path d="M510.35,213.60 L510.35,217.30 M508.75,213.60 L511.95,213.60 M508.75,217.30 L511.95,217.30" stroke="#707070" stroke-width="0.75"/>
<path d="M535.74,215.29 L535.74,218.79 M534.14,215.29 L537.34,215.29 M534.14,218.79 L537.34,218.79" stroke="#707070" stroke-width="0.75"/>
<path d="M586.52,217.80 L586.52,220.92 M584.92,217.80 L588.12,217.80 M584.92,220.92 L588.12,220.92" stroke="#707070" stroke-width="0.75"/>
<path d="M637.30,218.45 L637.30,221.43 M635.70,218.45 L638.90,218.45 M635.70,221.43 L638.90,221.43" stroke="#707070" stroke-width="0.75"/>
<path d="M388.48,194.74 L388.48,199.64 M386.88,194.74 L390.08,194.74 M386.88,199.64 L390.08,199.64" stroke="#707070" stroke-width="0.75"/>
<path d="M393.56,180.16 L393.56,185.54 M391.96,180.16 L395.16,180.16 M391.96,185.54 L395.16,185.54" stroke="#707070" stroke-width="0.75"/>
<path d="M403.71,170.79 L403.71,176.36 M402.11,170.79 L405.31,170.79 M402.11,176.36 L405.31,176.36" stroke="#707070" stroke-width="0.75"/>
<path d="M413.87,171.37 L413.87,176.93 M412.27,171.37 L415.47,171.37 M412.27,176.93 L415.47,176.93" stroke="#707070" stroke-width="0.75"/>
<path d="M424.02,176.35 L424.02,181.81 M422.42,176.35 L425.62,176.35 M422.42,181.81 L425.62,181.81" stroke="#707070" stroke-width="0.75"/>
<path d="M434.18,182.21 L434.18,187.54 M432.58,182.21 L435.78,182.21 M432.58,187.54 L435.78,187.54" stroke="#707070" stroke-width="0.75"/>
<path d="M444.34,186.62 L444.34,191.82 M442.74,186.62 L445.94,186.62 M442.74,191.82 L445.94,191.82" stroke="#707070" stroke-width="0.75"/>
<path d="M454.49,192.08 L454.49,197.09 M452.89,192.08 L456.09,192.08 M452.89,197.09 L456.09,197.09" stroke="#707070" stroke-width="0.75"/>
<path d="M464.65,196.96 L464.65,201.77 M463.05,196.96 L466.25,196.96 M463.05,201.77 L466.25,201.77" stroke="#707070" stroke-width="0.75"/>
<path d="M474.80,199.93 L474.80,204.60 M473.20,199.93 L476.40,199.93 M473.20,204.60 L476.40,204.60" stroke="#707070" stroke-width="0.75"/>
<path d="M484.96,202.46 L484.96,206.99 M483.36,202.46 L486.56,202.46 M483.36,206.99 L486.56,206.99" stroke="#707070" stroke-width="0.75"/>
<path d="M510.35,206.80 L510.35,211.06 M508.75,206.80 L511.95,206.80 M508.75,211.06 L511.95,211.06" stroke="#707070" stroke-width="0.75"/>
<path d="M535.74,210.26 L535.74,214.26 M534.14,210.26 L537.34,210.26 M534.14,214.26 L537.34,214.26" stroke="#707070" stroke-width="0.75"/>
<path d="M586.52,213.60 L586.52,217.30 M584.92,213.60 L588.12,213.60 M584.92,217.30 L588.12,217.30" stroke="#707070" stroke-width="0.75"/>
<path d="M637.30,215.60 L637.30,219.06 M635.70,215.60 L638.90,215.60 M635.70,219.06 L638.90,219.06" stroke="#707070" stroke-width="0.75"/>
<path d="M388.48,217.80 L388.48,220.92 M386.88,217.80 L390.08,217.80 M386.88,220.92 L390.08,220.92" stroke="#707070" stroke-width="0.75"/>
<path d="M393.56,209.35 L393.56,213.43 M391.96,209.35 L395.16,209.35 M391.96,213.43 L395.16,213.43" stroke="#707070" stroke-width="0.75"/>
<path d="M403.71,198.59 L403.71,203.33 M402.11,198.59 L405.31,198.59 M402.11,203.33 L405.31,203.33" stroke="#707070" stroke-width="0.75"/>
<path d="M413.87,191.05 L413.87,196.09 M412.27,191.05 L415.47,191.05 M412.27,196.09 L415.47,196.09" stroke="#707070" stroke-width="0.75"/>
<path d="M424.02,188.10 L424.02,193.25 M422.42,188.10 L425.62,188.10 M422.42,193.25 L425.62,193.25" stroke="#707070" stroke-width="0.75"/>
<path d="M434.18,187.36 L434.18,192.53 M432.58,187.36 L435.78,187.36 M432.58,192.53 L435.78,192.53" stroke="#707070" stroke-width="0.75"/>
<path d="M444.34,187.65 L444.34,192.82 M442.74,187.65 L445.94,187.65 M442.74,192.82 L445.94,192.82" stroke="#707070" stroke-width="0.75"/>
<path d="M454.49,189.57 L454.49,194.67 M452.89,189.57 L456.09,189.57 M452.89,194.67 L456.09,194.67" stroke="#707070" stroke-width="0.75"/>
<path d="M464.65,191.34 L464.65,196.38 M463.05,191.34 L466.25,191.34 M463.05,196.38 L466.25,196.38" stroke="#707070" stroke-width="0.75"/>
<path d="M474.80,193.70 L474.80,198.65 M473.20,193.70 L476.40,193.70 M473.20,198.65 L476.40,198.65" stroke="#707070" stroke-width="0.75"/>
<path d="M484.96,195.78 L484.96,200.64 M483.36,195.78 L486.56,195.78 M483.36,200.64 L486.56,200.64" stroke="#707070" stroke-width="0.75"/>
<path d="M510.35,201.42 L510.35,206.01 M508.75,201.42 L511.95,201.42 M508.75,206.01 L511.95,206.01" stroke="#707070" stroke-width="0.75"/>
<path d="M535.74,206.65 L535.74,210.92 M534.14,206.65 L537.34,206.65 M534.14,210.92 L537.34,210.92" stroke="#707070" stroke-width="0.75"/>
<path d="M586.52,210.86 L586.52,214.82 M584.92,210.86 L588.12,210.86 M584.92,214.82 L588.12,214.82" stroke="#707070" stroke-width="0.75"/>
<path d="M637.30,214.21 L637.30,217.84 M635.70,214.21 L638.90,214.21 M635.70,217.84 L638.90,217.84" stroke="#707070" stroke-width="0.75"/>
<path d="M388.48,219.66 L388.48,222.25 M386.88,219.66 L390.08,219.66 M386.88,222.25 L390.08,222.25" stroke="#707070" stroke-width="0.75"/>
<path d="M393.56,218.78 L393.56,221.68 M391.96,218.78 L395.16,218.78 M391.96,221.68 L395.16,221.68" stroke="#707070" stroke-width="0.75"/>
<path d="M403.71,212.68 L403.71,216.47 M402.11,212.68 L405.31,212.68 M402.11,216.47 L405.31,216.47" stroke="#707070" stroke-width="0.75"/>
<path d="M413.87,205.75 L413.87,210.08 M412.27,205.75 L415.47,205.75 M412.27,210.08 L415.47,210.08" stroke="#707070" stroke-width="0.75"/>
<path d="M424.02,200.08 L424.02,204.74 M422.42,200.08 L425.62,200.08 M422.42,204.74 L425.62,204.74" stroke="#707070" stroke-width="0.75"/>
<path d="M434.18,195.92 L434.18,200.78 M432.58,195.92 L435.78,195.92 M432.58,200.78 L435.78,200.78" stroke="#707070" stroke-width="0.75"/>
<path d="M444.34,194.00 L444.34,198.93 M442.74,194.00 L445.94,194.00 M442.74,198.93 L445.94,198.93" stroke="#707070" stroke-width="0.75"/>
<path d="M454.49,193.70 L454.49,198.65 M452.89,193.70 L456.09,193.70 M452.89,198.65 L456.09,198.65" stroke="#707070" stroke-width="0.75"/>
<path d="M464.65,194.59 L464.65,199.50 M463.05,194.59 L466.25,194.59 M463.05,199.50 L466.25,199.50" stroke="#707070" stroke-width="0.75"/>
<path d="M474.80,195.33 L474.80,200.21 M473.20,195.33 L476.40,195.33 M473.20,200.21 L476.40,200.21" stroke="#707070" stroke-width="0.75"/>
<path d="M484.96,195.78 L484.96,200.64 M483.36,195.78 L486.56,195.78 M483.36,200.64 L486.56,200.64" stroke="#707070" stroke-width="0.75"/>
<path d="M510.35,200.23 L510.35,204.88 M508.75,200.23 L511.95,200.23 M508.75,204.88 L511.95,204.88" stroke="#707070" stroke-width="0.75"/>
<path d="M535.74,205.90 L535.74,210.22 M534.14,205.90 L537.34,205.90 M534.14,210.22 L537.34,210.22" stroke="#707070" stroke-width="0.75"/>
<path d="M586.52,209.50 L586.52,213.57 M584.92,209.50 L588.12,209.50 M584.92,213.57 L588.12,213.57" stroke="#707070" stroke-width="0.75"/>
<path d="M637.30,212.08 L637.30,215.92 M635.70,212.08 L638.90,212.08 M635.70,215.92 L638.90,215.92" stroke="#707070" stroke-width="0.75"/>
<path d="M388.48,219.91 L388.48,222.29 M386.88,219.91 L390.08,219.91 M386.88,222.29 L390.08,222.29" stroke="#707070" stroke-width="0.75"/>
<path d="M393.56,219.66 L393.56,222.25 M391.96,219.66 L395.16,219.66 M391.96,222.25 L395.16,222.25" stroke="#707070" stroke-width="0.75"/>
<path d="M403.71,217.64 L403.71,220.79 M402.11,217.64 L405.31,217.64 M402.11,220.79 L405.31,220.79" stroke="#707070" stroke-width="0.75"/>
<path d="M413.87,214.37 L413.87,217.98 M412.27,214.37 L415.47,214.37 M412.27,217.98 L415.47,217.98" stroke="#707070" stroke-width="0.75"/>
<path d="M424.02,209.65 L424.02,213.71 M422.42,209.65 L425.62,209.65 M422.42,213.71 L425.62,213.71" stroke="#707070" stroke-width="0.75"/>
<path d="M434.18,205.60 L434.18,209.94 M432.58,205.60 L435.78,205.60 M432.58,209.94 L435.78,209.94" stroke="#707070" stroke-width="0.75"/>
<path d="M444.34,201.86 L444.34,206.43 M442.74,201.86 L445.94,201.86 M442.74,206.43 L445.94,206.43" stroke="#707070" stroke-width="0.75"/>
<path d="M454.49,199.48 L454.49,204.17 M452.89,199.48 L456.09,199.48 M452.89,204.17 L456.09,204.17" stroke="#707070" stroke-width="0.75"/>
<path d="M464.65,198.44 L464.65,203.18 M463.05,198.44 L466.25,198.44 M463.05,203.18 L466.25,203.18" stroke="#707070" stroke-width="0.75"/>
<path d="M474.80,198.00 L474.80,202.76 M473.20,198.00 L476.40,198.00 M473.20,202.76 L476.40,202.76" stroke="#707070" stroke-width="0.75"/>
<path d="M484.96,198.59 L484.96,203.33 M483.36,198.59 L486.56,198.59 M483.36,203.33 L486.56,203.33" stroke="#707070" stroke-width="0.75"/>
<path d="M510.35,200.67 L510.35,205.30 M508.75,200.67 L511.95,200.67 M508.75,205.30 L511.95,205.30" stroke="#707070" stroke-width="0.75"/>
<path d="M535.74,203.21 L535.74,207.70 M534.14,203.21 L537.34,203.21 M534.14,207.70 L537.34,207.70" stroke="#707070" stroke-width="0.75"/>
<path d="M586.52,208.15 L586.52,212.32 M584.92,208.15 L588.12,208.15 M584.92,212.32 L588.12,212.32" stroke="#707070" stroke-width="0.75"/>
<path d="M637.30,211.47 L637.30,215.37 M635.70,211.47 L638.90,211.47 M635.70,215.37 L638.90,215.37" stroke="#707070" stroke-width="0.75"/>
<path d="M388.48,219.91 L388.48,222.29 M386.88,219.91 L390.08,219.91 M386.88,222.29 L390.08,222.29" stroke="#707070" stroke-width="0.75"/>
<path d="M393.56,219.91 L393.56,222.29 M391.96,219.91 L395.16,219.91 M391.96,222.29 L395.16,222.29" stroke="#707070" stroke-width="0.75"/>
<path d="M403.71,219.29 L403.71,222.04 M402.11,219.29 L405.31,219.29 M402.11,222.04 L405.31,222.04" stroke="#707070" stroke-width="0.75"/>
<path d="M413.87,218.12 L413.87,221.18 M412.27,218.12 L415.47,218.12 M412.27,221.18 L415.47,221.18" stroke="#707070" stroke-width="0.75"/>
<path d="M424.02,215.60 L424.02,219.06 M422.42,215.60 L425.62,215.60 M422.42,219.06 L425.62,219.06" stroke="#707070" stroke-width="0.75"/>
<path d="M434.18,211.92 L434.18,215.79 M432.58,211.92 L435.78,211.92 M432.58,215.79 L435.78,215.79" stroke="#707070" stroke-width="0.75"/>
<path d="M444.34,208.30 L444.34,212.46 M442.74,208.30 L445.94,208.30 M442.74,212.46 L445.94,212.46" stroke="#707070" stroke-width="0.75"/>
<path d="M454.49,204.85 L454.49,209.24 M452.89,204.85 L456.09,204.85 M452.89,209.24 L456.09,209.24" stroke="#707070" stroke-width="0.75"/>
<path d="M464.65,202.76 L464.65,207.27 M463.05,202.76 L466.25,202.76 M463.05,207.27 L466.25,207.27" stroke="#707070" stroke-width="0.75"/>
<path d="M474.80,201.42 L474.80,206.01 M473.20,201.42 L476.40,201.42 M473.20,206.01 L476.40,206.01" stroke="#707070" stroke-width="0.75"/>
<path d="M484.96,200.67 L484.96,205.30 M483.36,200.67 L486.56,200.67 M483.36,205.30 L486.56,205.30" stroke="#707070" stroke-width="0.75"/>
<path d="M510.35,201.12 L510.35,205.72 M508.75,201.12 L511.95,201.12 M508.75,205.72 L511.95,205.72" stroke="#707070" stroke-width="0.75"/>
<path d="M535.74,202.61 L535.74,207.13 M534.14,202.61 L537.34,202.61 M534.14,207.13 L537.34,207.13" stroke="#707070" stroke-width="0.75"/>
<path d="M586.52,207.70 L586.52,211.90 M584.92,207.70 L588.12,207.70 M584.92,211.90 L588.12,211.90" stroke="#707070" stroke-width="0.75"/>
<path d="M637.30,210.86 L637.30,214.82 M635.70,210.86 L638.90,210.86 M635.70,214.82 L638.90,214.82" stroke="#707070" stroke-width="0.75"/>
<path d="M388.48,219.91 L388.48,222.29 M386.88,219.91 L390.08,219.91 M386.88,222.29 L390.08,222.29" stroke="#707070" stroke-width="0.75"/>
<path d="M393.56,219.91 L393.56,222.29 M391.96,219.91 L395.16,219.91 M391.96,222.29 L395.16,222.29" stroke="#707070" stroke-width="0.75"/>
<path d="M403.71,219.66 L403.71,222.25 M402.11,219.66 L405.31,219.66 M402.11,222.25 L405.31,222.25" stroke="#707070" stroke-width="0.75"/>
<path d="M413.87,219.29 L413.87,222.04 M412.27,219.29 L415.47,219.29 M412.27,222.04 L415.47,222.04" stroke="#707070" stroke-width="0.75"/>
<path d="M424.02,218.45 L424.02,221.43 M422.42,218.45 L425.62,218.45 M422.42,221.43 L425.62,221.43" stroke="#707070" stroke-width="0.75"/>
<path d="M434.18,216.54 L434.18,219.87 M432.58,216.54 L435.78,216.54 M432.58,219.87 L435.78,219.87" stroke="#707070" stroke-width="0.75"/>
<path d="M444.34,212.68 L444.34,216.47 M442.74,212.68 L445.94,212.68 M442.74,216.47 L445.94,216.47" stroke="#707070" stroke-width="0.75"/>
<path d="M454.49,209.65 L454.49,213.71 M452.89,209.65 L456.09,209.65 M452.89,213.71 L456.09,213.71" stroke="#707070" stroke-width="0.75"/>
<path d="M464.65,207.40 L464.65,211.62 M463.05,207.40 L466.25,207.40 M463.05,211.62 L466.25,211.62" stroke="#707070" stroke-width="0.75"/>
<path d="M474.80,205.60 L474.80,209.94 M473.20,205.60 L476.40,205.60 M473.20,209.94 L476.40,209.94" stroke="#707070" stroke-width="0.75"/>
<path d="M484.96,204.40 L484.96,208.82 M483.36,204.40 L486.56,204.40 M483.36,208.82 L486.56,208.82" stroke="#707070" stroke-width="0.75"/>
<path d="M510.35,202.91 L510.35,207.41 M508.75,202.91 L511.95,202.91 M508.75,207.41 L511.95,207.41" stroke="#707070" stroke-width="0.75"/>
<path d="M535.74,203.65 L535.74,208.12 M534.14,203.65 L537.34,203.65 M534.14,208.12 L537.34,208.12" stroke="#707070" stroke-width="0.75"/>
<path d="M586.52,207.40 L586.52,211.62 M584.92,207.40 L588.12,207.40 M584.92,211.62 L588.12,211.62" stroke="#707070" stroke-width="0.75"/>
<path d="M637.30,211.47 L637.30,215.37 M635.70,211.47 L638.90,211.47 M635.70,215.37 L638.90,215.37" stroke="#707070" stroke-width="0.75"/>
<path d="M388.48,219.91 L388.48,222.29 M386.88,219.91 L390.08,219.91 M386.88,222.29 L390.08,222.29" stroke="#707070" stroke-width="0.75"/>
<path d="M393.56,219.91 L393.56,222.29 M391.96,219.91 L395.16,219.91 M391.96,222.29 L395.16,222.29" stroke="#707070" stroke-width="0.75"/>
<path d="M403.71,219.91 L403.71,222.29 M402.11,219.91 L405.31,219.91 M402.11,222.29 L405.31,222.29" stroke="#707070" stroke-width="0.75"/>
<path d="M413.87,219.66 L413.87,222.25 M412.27,219.66 L415.47,219.66 M412.27,222.25 L415.47,222.25" stroke="#707070" stroke-width="0.75"/>
<path d="M424.02,219.29 L424.02,222.04 M422.42,219.29 L425.62,219.29 M422.42,222.04 L425.62,222.04" stroke="#707070" stroke-width="0.75"/>
<path d="M434.18,218.12 L434.18,221.18 M432.58,218.12 L435.78,218.12 M432.58,221.18 L435.78,221.18" stroke="#707070" stroke-width="0.75"/>
<path d="M444.34,215.29 L444.34,218.79 M442.74,215.29 L445.94,215.29 M442.74,218.79 L445.94,218.79" stroke="#707070" stroke-width="0.75"/>
<path d="M454.49,214.21 L454.49,217.84 M452.89,214.21 L456.09,214.21 M452.89,217.84 L456.09,217.84" stroke="#707070" stroke-width="0.75"/>
<path d="M464.65,211.62 L464.65,215.51 M463.05,211.62 L466.25,211.62 M463.05,215.51 L466.25,215.51" stroke="#707070" stroke-width="0.75"/>
<path d="M474.80,209.96 L474.80,213.99 M473.20,209.96 L476.40,209.96 M473.20,213.99 L476.40,213.99" stroke="#707070" stroke-width="0.75"/>
<path d="M484.96,209.35 L484.96,213.43 M483.36,209.35 L486.56,209.35 M483.36,213.43 L486.56,213.43" stroke="#707070" stroke-width="0.75"/>
<path d="M510.35,206.65 L510.35,210.92 M508.75,206.65 L511.95,206.65 M508.75,210.92 L511.95,210.92" stroke="#707070" stroke-width="0.75"/>
<path d="M535.74,205.15 L535.74,209.52 M534.14,205.15 L537.34,205.15 M534.14,209.52 L537.34,209.52" stroke="#707070" stroke-width="0.75"/>
<path d="M586.52,206.80 L586.52,211.06 M584.92,206.80 L588.12,206.80 M584.92,211.06 L588.12,211.06" stroke="#707070" stroke-width="0.75"/>
<path d="M637.30,209.05 L637.30,213.15 M635.70,209.05 L638.90,209.05 M635.70,213.15 L638.90,213.15" stroke="#707070" stroke-width="0.75"/>
<path d="M388.48,219.91 L388.48,222.29 M386.88,219.91 L390.08,219.91 M386.88,222.29 L390.08,222.29" stroke="#707070" stroke-width="0.75"/>
<path d="M393.56,219.91 L393.56,222.29 M391.96,219.91 L395.16,219.91 M391.96,222.29 L395.16,222.29" stroke="#707070" stroke-width="0.75"/>
<path d="M403.71,219.91 L403.71,222.29 M402.11,219.91 L405.31,219.91 M402.11,222.29 L405.31,222.29" stroke="#707070" stroke-width="0.75"/>
<path d="M413.87,219.91 L413.87,222.29 M412.27,219.91 L415.47,219.91 M412.27,222.29 L415.47,222.29" stroke="#707070" stroke-width="0.75"/>
<path d="M424.02,219.66 L424.02,222.25 M422.42,219.66 L425.62,219.66 M422.42,222.25 L425.62,222.25" stroke="#707070" stroke-width="0.75"/>
<path d="M434.18,218.95 L434.18,221.81 M432.58,218.95 L435.78,218.95 M432.58,221.81 L435.78,221.81" stroke="#707070" stroke-width="0.75"/>
<path d="M444.34,217.64 L444.34,220.79 M442.74,217.64 L445.94,217.64 M442.74,220.79 L445.94,220.79" stroke="#707070" stroke-width="0.75"/>
<path d="M454.49,215.60 L454.49,219.06 M452.89,215.60 L456.09,215.60 M452.89,219.06 L456.09,219.06" stroke="#707070" stroke-width="0.75"/>
<path d="M464.65,212.84 L464.65,216.61 M463.05,212.84 L466.25,212.84 M463.05,216.61 L466.25,216.61" stroke="#707070" stroke-width="0.75"/>
<path d="M474.80,207.40 L474.80,211.62 M473.20,207.40 L476.40,207.40 M473.20,211.62 L476.40,211.62" stroke="#707070" stroke-width="0.75"/>
<path d="M484.96,202.61 L484.96,207.13 M483.36,202.61 L486.56,202.61 M483.36,207.13 L486.56,207.13" stroke="#707070" stroke-width="0.75"/>
<path d="M510.35,187.07 L510.35,192.25 M508.75,187.07 L511.95,187.07 M508.75,192.25 L511.95,192.25" stroke="#707070" stroke-width="0.75"/>
<path d="M535.74,171.66 L535.74,177.22 M534.14,171.66 L537.34,171.66 M534.14,177.22 L537.34,177.22" stroke="#707070" stroke-width="0.75"/>
<path d="M586.52,143.59 L586.52,149.37 M584.92,143.59 L588.12,143.59 M584.92,149.37 L588.12,149.37" stroke="#707070" stroke-width="0.75"/>
<path d="M637.30,124.10 L637.30,129.73 M635.70,124.10 L638.90,124.10 M635.70,129.73 L638.90,129.73" stroke="#707070" stroke-width="0.75"/>
<path d="M383.40,76.20 L637.30,76.20" stroke="#595959" stroke-width="1.1"/>
<path d="M637.30,76.20 L637.30,222.10" stroke="#262626" stroke-width="1.1"/>
<path d="M55.20,68.40 L55.20,70.90" stroke="#A6A6A6" stroke-width="0.8"/>
<path d="M71.00,68.40 L71.00,70.90" stroke="#A6A6A6" stroke-width="0.8"/>
<path d="M86.80,68.40 L86.80,70.90" stroke="#A6A6A6" stroke-width="0.8"/>
<path d="M102.60,68.40 L102.60,70.90" stroke="#A6A6A6" stroke-width="0.8"/>
<path d="M118.40,68.40 L118.40,70.90" stroke="#A6A6A6" stroke-width="0.8"/>
<path d="M134.20,68.40 L134.20,70.90" stroke="#A6A6A6" stroke-width="0.8"/>
<path d="M150.00,68.40 L150.00,70.90" stroke="#A6A6A6" stroke-width="0.8"/>
<path d="M165.80,68.40 L165.80,70.90" stroke="#A6A6A6" stroke-width="0.8"/>
<path d="M181.60,68.40 L181.60,70.90" stroke="#A6A6A6" stroke-width="0.8"/>
<path d="M197.40,68.40 L197.40,70.90" stroke="#A6A6A6" stroke-width="0.8"/>
<path d="M213.20,68.40 L213.20,70.90" stroke="#A6A6A6" stroke-width="0.8"/>
<path d="M229.00,68.40 L229.00,70.90" stroke="#A6A6A6" stroke-width="0.8"/>
<path d="M244.80,68.40 L244.80,70.90" stroke="#A6A6A6" stroke-width="0.8"/>
<path d="M260.60,68.40 L260.60,70.90" stroke="#A6A6A6" stroke-width="0.8"/>
<path d="M276.40,68.40 L276.40,70.90" stroke="#A6A6A6" stroke-width="0.8"/>
<path d="M292.20,68.40 L292.20,70.90" stroke="#A6A6A6" stroke-width="0.8"/>
<text x="55.20" y="62.50" font-family='"Liberation Sans", sans-serif' font-size="7.80" fill="#3a3a3a" text-anchor="middle" font-weight="normal" textLength="4.00" lengthAdjust="spacingAndGlyphs" stroke="#3a3a3a" stroke-width="0.25">0</text>
<text x="134.20" y="62.50" font-family='"Liberation Sans", sans-serif' font-size="7.80" fill="#3a3a3a" text-anchor="middle" font-weight="normal" textLength="4.00" lengthAdjust="spacingAndGlyphs" stroke="#3a3a3a" stroke-width="0.25">1</text>
<text x="213.20" y="62.50" font-family='"Liberation Sans", sans-serif' font-size="7.80" fill="#3a3a3a" text-anchor="middle" font-weight="normal" textLength="4.00" lengthAdjust="spacingAndGlyphs" stroke="#3a3a3a" stroke-width="0.25">2</text>
<text x="292.20" y="62.50" font-family='"Liberation Sans", sans-serif' font-size="7.80" fill="#3a3a3a" text-anchor="middle" font-weight="normal" textLength="4.00" lengthAdjust="spacingAndGlyphs" stroke="#3a3a3a" stroke-width="0.25">3</text>
<path d="M383.40,73.70 L383.40,76.20" stroke="#A6A6A6" stroke-width="0.8"/>
<path d="M395.88,73.70 L395.88,76.20" stroke="#A6A6A6" stroke-width="0.8"/>
<path d="M408.35,73.70 L408.35,76.20" stroke="#A6A6A6" stroke-width="0.8"/>
<path d="M420.82,73.70 L420.82,76.20" stroke="#A6A6A6" stroke-width="0.8"/>
<path d="M433.30,73.70 L433.30,76.20" stroke="#A6A6A6" stroke-width="0.8"/>
<path d="M445.77,73.70 L445.77,76.20" stroke="#A6A6A6" stroke-width="0.8"/>
<path d="M458.25,73.70 L458.25,76.20" stroke="#A6A6A6" stroke-width="0.8"/>
<path d="M470.72,73.70 L470.72,76.20" stroke="#A6A6A6" stroke-width="0.8"/>
<path d="M483.20,73.70 L483.20,76.20" stroke="#A6A6A6" stroke-width="0.8"/>
<path d="M495.67,73.70 L495.67,76.20" stroke="#A6A6A6" stroke-width="0.8"/>
<path d="M508.15,73.70 L508.15,76.20" stroke="#A6A6A6" stroke-width="0.8"/>
<path d="M520.62,73.70 L520.62,76.20" stroke="#A6A6A6" stroke-width="0.8"/>
<path d="M533.10,73.70 L533.10,76.20" stroke="#A6A6A6" stroke-width="0.8"/>
<path d="M545.57,73.70 L545.57,76.20" stroke="#A6A6A6" stroke-width="0.8"/>
<path d="M558.05,73.70 L558.05,76.20" stroke="#A6A6A6" stroke-width="0.8"/>
<path d="M570.52,73.70 L570.52,76.20" stroke="#A6A6A6" stroke-width="0.8"/>
<path d="M583.00,73.70 L583.00,76.20" stroke="#A6A6A6" stroke-width="0.8"/>
<path d="M595.47,73.70 L595.47,76.20" stroke="#A6A6A6" stroke-width="0.8"/>
<path d="M607.95,73.70 L607.95,76.20" stroke="#A6A6A6" stroke-width="0.8"/>
<path d="M620.42,73.70 L620.42,76.20" stroke="#A6A6A6" stroke-width="0.8"/>
<path d="M632.90,73.70 L632.90,76.20" stroke="#A6A6A6" stroke-width="0.8"/>
<text x="383.40" y="67.80" font-family='"Liberation Sans", sans-serif' font-size="7.80" fill="#3a3a3a" text-anchor="middle" font-weight="normal" textLength="4.00" lengthAdjust="spacingAndGlyphs" stroke="#3a3a3a" stroke-width="0.25">0</text>
<text x="458.25" y="67.80" font-family='"Liberation Sans", sans-serif' font-size="7.80" fill="#3a3a3a" text-anchor="middle" font-weight="normal" textLength="4.00" lengthAdjust="spacingAndGlyphs" stroke="#3a3a3a" stroke-width="0.25">3</text>
<text x="533.10" y="67.80" font-family='"Liberation Sans", sans-serif' font-size="7.80" fill="#3a3a3a" text-anchor="middle" font-weight="normal" textLength="4.00" lengthAdjust="spacingAndGlyphs" stroke="#3a3a3a" stroke-width="0.25">6</text>
<text x="607.95" y="67.80" font-family='"Liberation Sans", sans-serif' font-size="7.80" fill="#3a3a3a" text-anchor="middle" font-weight="normal" textLength="4.00" lengthAdjust="spacingAndGlyphs" stroke="#3a3a3a" stroke-width="0.25">9</text>
<text x="47.20" y="74.00" font-family='"Liberation Sans", sans-serif' font-size="8.80" fill="#595959" text-anchor="end" font-weight="normal" textLength="3.60" lengthAdjust="spacingAndGlyphs" >1</text>
<text x="47.20" y="102.88" font-family='"Liberation Sans", sans-serif' font-size="8.80" fill="#595959" text-anchor="end" font-weight="normal" textLength="10.80" lengthAdjust="spacingAndGlyphs" >0.8</text>
<text x="47.20" y="131.76" font-family='"Liberation Sans", sans-serif' font-size="8.80" fill="#595959" text-anchor="end" font-weight="normal" textLength="10.80" lengthAdjust="spacingAndGlyphs" >0.6</text>
<text x="47.20" y="160.64" font-family='"Liberation Sans", sans-serif' font-size="8.80" fill="#595959" text-anchor="end" font-weight="normal" textLength="10.80" lengthAdjust="spacingAndGlyphs" >0.4</text>
<text x="47.20" y="189.52" font-family='"Liberation Sans", sans-serif' font-size="8.80" fill="#595959" text-anchor="end" font-weight="normal" textLength="10.80" lengthAdjust="spacingAndGlyphs" >0.2</text>
<text x="47.20" y="218.40" font-family='"Liberation Sans", sans-serif' font-size="8.80" fill="#595959" text-anchor="end" font-weight="normal" textLength="4.60" lengthAdjust="spacingAndGlyphs" >0</text>
<text x="375.40" y="79.30" font-family='"Liberation Sans", sans-serif' font-size="8.80" fill="#595959" text-anchor="end" font-weight="normal" textLength="3.60" lengthAdjust="spacingAndGlyphs" >1</text>
<text x="375.40" y="108.28" font-family='"Liberation Sans", sans-serif' font-size="8.80" fill="#595959" text-anchor="end" font-weight="normal" textLength="10.80" lengthAdjust="spacingAndGlyphs" >0.8</text>
<text x="375.40" y="137.26" font-family='"Liberation Sans", sans-serif' font-size="8.80" fill="#595959" text-anchor="end" font-weight="normal" textLength="10.80" lengthAdjust="spacingAndGlyphs" >0.6</text>
<text x="375.40" y="166.24" font-family='"Liberation Sans", sans-serif' font-size="8.80" fill="#595959" text-anchor="end" font-weight="normal" textLength="10.80" lengthAdjust="spacingAndGlyphs" >0.4</text>
<text x="375.40" y="195.22" font-family='"Liberation Sans", sans-serif' font-size="8.80" fill="#595959" text-anchor="end" font-weight="normal" textLength="10.80" lengthAdjust="spacingAndGlyphs" >0.2</text>
<text x="375.40" y="224.20" font-family='"Liberation Sans", sans-serif' font-size="8.80" fill="#595959" text-anchor="end" font-weight="normal" textLength="4.60" lengthAdjust="spacingAndGlyphs" >0</text>
<text x="55.20" y="229.70" font-family='"Liberation Sans", sans-serif' font-size="8.80" fill="#595959" text-anchor="middle" font-weight="normal" textLength="4.60" lengthAdjust="spacingAndGlyphs" >0</text>
<text x="104.46" y="229.70" font-family='"Liberation Sans", sans-serif' font-size="8.80" fill="#595959" text-anchor="middle" font-weight="normal" textLength="10.80" lengthAdjust="spacingAndGlyphs" >0.1</text>
<text x="153.72" y="229.70" font-family='"Liberation Sans", sans-serif' font-size="8.80" fill="#595959" text-anchor="middle" font-weight="normal" textLength="10.80" lengthAdjust="spacingAndGlyphs" >0.2</text>
<text x="202.98" y="229.70" font-family='"Liberation Sans", sans-serif' font-size="8.80" fill="#595959" text-anchor="middle" font-weight="normal" textLength="10.80" lengthAdjust="spacingAndGlyphs" >0.3</text>
<text x="252.24" y="229.70" font-family='"Liberation Sans", sans-serif' font-size="8.80" fill="#595959" text-anchor="middle" font-weight="normal" textLength="10.80" lengthAdjust="spacingAndGlyphs" >0.4</text>
<text x="301.50" y="229.70" font-family='"Liberation Sans", sans-serif' font-size="8.80" fill="#595959" text-anchor="middle" font-weight="normal" textLength="10.80" lengthAdjust="spacingAndGlyphs" >0.5</text>
<text x="383.40" y="235.50" font-family='"Liberation Sans", sans-serif' font-size="8.80" fill="#595959" text-anchor="middle" font-weight="normal" textLength="4.60" lengthAdjust="spacingAndGlyphs" >0</text>
<text x="434.18" y="235.50" font-family='"Liberation Sans", sans-serif' font-size="8.80" fill="#595959" text-anchor="middle" font-weight="normal" textLength="10.80" lengthAdjust="spacingAndGlyphs" >0.1</text>
<text x="484.96" y="235.50" font-family='"Liberation Sans", sans-serif' font-size="8.80" fill="#595959" text-anchor="middle" font-weight="normal" textLength="10.80" lengthAdjust="spacingAndGlyphs" >0.2</text>
<text x="535.74" y="235.50" font-family='"Liberation Sans", sans-serif' font-size="8.80" fill="#595959" text-anchor="middle" font-weight="normal" textLength="10.80" lengthAdjust="spacingAndGlyphs" >0.3</text>
<text x="586.52" y="235.50" font-family='"Liberation Sans", sans-serif' font-size="8.80" fill="#595959" text-anchor="middle" font-weight="normal" textLength="10.80" lengthAdjust="spacingAndGlyphs" >0.4</text>
<text x="637.30" y="235.50" font-family='"Liberation Sans", sans-serif' font-size="8.80" fill="#595959" text-anchor="middle" font-weight="normal" textLength="10.80" lengthAdjust="spacingAndGlyphs" >0.5</text>
<text x="86.00" y="49.20" font-family='"Liberation Sans", sans-serif' font-size="11.20" fill="#595959" text-anchor="start" font-weight="normal" textLength="152.00" lengthAdjust="spacingAndGlyphs" >Average number of nucleus hits</text>
<text x="433.20" y="54.20" font-family='"Liberation Sans", sans-serif' font-size="11.20" fill="#595959" text-anchor="start" font-weight="normal" textLength="153.80" lengthAdjust="spacingAndGlyphs" >Average number of nucleus hits</text>
<text x="77.70" y="247.00" font-family='"Liberation Sans", sans-serif' font-size="11.40" fill="#595959" text-anchor="start" font-weight="normal" textLength="200.80" lengthAdjust="spacingAndGlyphs" >Number of emissions per (5&#181;m^3) mucus</text>
<text x="399.80" y="255.40" font-family='"Liberation Sans", sans-serif' font-size="11.40" fill="#595959" text-anchor="start" font-weight="normal" textLength="203.00" lengthAdjust="spacingAndGlyphs" >Number of emissions per (5&#181;m^3) mucus</text>
<text x="0" y="0" transform="translate(24.5,187.5) rotate(-90)" font-family='"Liberation Sans", sans-serif' font-size="10.6" fill="#595959" textLength="93" lengthAdjust="spacingAndGlyphs">Ratio of hit nuclei</text>
<text x="0" y="0" transform="translate(353,197.5) rotate(-90)" font-family='"Liberation Sans", sans-serif' font-size="10.6" fill="#595959" textLength="98" lengthAdjust="spacingAndGlyphs">Ratio of hit nuclei</text>
<text x="8.80" y="19.60" font-family='"Liberation Serif", serif' font-size="16.50" fill="#000" text-anchor="start" font-weight="bold" textLength="21.40" lengthAdjust="spacingAndGlyphs" >(a)</text>
<text x="337.40" y="18.10" font-family='"Liberation Serif", serif' font-size="16.80" fill="#000" text-anchor="start" font-weight="bold" textLength="22.00" lengthAdjust="spacingAndGlyphs" >(b)</text>
<text x="18.30" y="44.00" font-family='"Liberation Sans", sans-serif' font-size="13.00" fill="#595959" text-anchor="start" font-weight="bold" textLength="29.50" lengthAdjust="spacingAndGlyphs" >Basal</text>
<text x="342.50" y="40.50" font-family='"Liberation Sans", sans-serif' font-size="12.20" fill="#595959" text-anchor="start" font-weight="bold" textLength="54.00" lengthAdjust="spacingAndGlyphs" >Secretory</text>
<path d="M126.70,79.80 L141.60,79.80" stroke="#5B9BD5" stroke-width="1.1"/>
<rect x="132.15" y="77.80" width="4.00" height="4.00" fill="none" stroke="#5B9BD5" stroke-width="0.9"/>
<text x="143.20" y="83.40" font-family='"Liberation Sans", sans-serif' font-size="8.40" fill="#505050" text-anchor="start" font-weight="normal" textLength="20.80" lengthAdjust="spacingAndGlyphs" >No hit</text>
<path d="M187.50,79.80 L202.30,79.80" stroke="#ED7D31" stroke-width="1.1"/>
<path d="M194.90,77.40 L197.30,79.80 L194.90,82.20 L192.50,79.80 Z" fill="none" stroke="#ED7D31" stroke-width="0.9"/>
<text x="203.40" y="83.40" font-family='"Liberation Sans", sans-serif' font-size="8.40" fill="#505050" text-anchor="start" font-weight="normal" textLength="16.20" lengthAdjust="spacingAndGlyphs" >1 Hit</text>
<path d="M248.20,79.80 L263.00,79.80" stroke="#A5A5A5" stroke-width="1.1"/>
<path d="M255.60,77.50 L257.80,81.50 L253.40,81.50 Z" fill="none" stroke="#A5A5A5" stroke-width="0.9"/>
<text x="264.10" y="83.40" font-family='"Liberation Sans", sans-serif' font-size="8.40" fill="#505050" text-anchor="start" font-weight="normal" textLength="19.50" lengthAdjust="spacingAndGlyphs" >2 Hits</text>
<path d="M126.70,93.40 L141.60,93.40" stroke="#FFC000" stroke-width="1.1"/>
<path d="M132.15,91.40 L136.15,95.40 M136.15,91.40 L132.15,95.40" stroke="#FFC000" stroke-width="1"/>
<text x="143.20" y="97.00" font-family='"Liberation Sans", sans-serif' font-size="8.40" fill="#505050" text-anchor="start" font-weight="normal" textLength="19.50" lengthAdjust="spacingAndGlyphs" >3 Hits</text>
<path d="M187.50,93.40 L202.30,93.40" stroke="#4472C4" stroke-width="1.1"/>
<path d="M192.90,91.40 L196.90,95.40 M196.90,91.40 L192.90,95.40 M192.90,93.40 L196.90,93.40" stroke="#4472C4" stroke-width="1.1"/>
<text x="203.40" y="97.00" font-family='"Liberation Sans", sans-serif' font-size="8.40" fill="#505050" text-anchor="start" font-weight="normal" textLength="19.50" lengthAdjust="spacingAndGlyphs" >4 Hits</text>
<path d="M248.20,93.40 L263.00,93.40" stroke="#70AD47" stroke-width="1.1"/>
<path d="M254.40,93.40 L256.80,93.40" stroke="#70AD47" stroke-width="1.4"/>
<text x="264.10" y="97.00" font-family='"Liberation Sans", sans-serif' font-size="8.40" fill="#505050" text-anchor="start" font-weight="normal" textLength="19.50" lengthAdjust="spacingAndGlyphs" >5 Hits</text>
<path d="M126.70,106.50 L141.60,106.50" stroke="#255E91" stroke-width="1.1"/>
<path d="M132.15,106.50 L136.15,106.50 M134.15,104.50 L134.15,108.50" stroke="#255E91" stroke-width="1"/>
<text x="143.20" y="110.10" font-family='"Liberation Sans", sans-serif' font-size="8.40" fill="#505050" text-anchor="start" font-weight="normal" textLength="19.50" lengthAdjust="spacingAndGlyphs" >6 Hits</text>
<path d="M187.50,106.50 L202.30,106.50" stroke="#9E480E" stroke-width="1.1"/>
<path d="M192.40,106.50 L197.40,106.50" stroke="#9E480E" stroke-width="1.8"/>
<text x="203.40" y="110.10" font-family='"Liberation Sans", sans-serif' font-size="8.40" fill="#505050" text-anchor="start" font-weight="normal" textLength="19.50" lengthAdjust="spacingAndGlyphs" >7 Hits</text>
<path d="M248.20,106.50 L263.00,106.50" stroke="#636363" stroke-width="1.1"/>
<circle cx="255.60" cy="106.50" r="2.00" fill="none" stroke="#636363" stroke-width="0.9"/>
<text x="264.10" y="110.10" font-family='"Liberation Sans", sans-serif' font-size="8.40" fill="#505050" text-anchor="start" font-weight="normal" textLength="28.00" lengthAdjust="spacingAndGlyphs" >&gt;=8 Hits</text>
<path d="M403.10,85.80 L417.90,85.80" stroke="#5B9BD5" stroke-width="1.1"/>
<rect x="408.50" y="83.80" width="4.00" height="4.00" fill="none" stroke="#5B9BD5" stroke-width="0.9"/>
<text x="419.00" y="88.80" font-family='"Liberation Sans", sans-serif' font-size="8.40" fill="#505050" text-anchor="start" font-weight="normal" textLength="20.80" lengthAdjust="spacingAndGlyphs" >No hit</text>
<path d="M464.60,85.80 L479.50,85.80" stroke="#ED7D31" stroke-width="1.1"/>
<path d="M472.05,83.40 L474.45,85.80 L472.05,88.20 L469.65,85.80 Z" fill="none" stroke="#ED7D31" stroke-width="0.9"/>
<text x="481.10" y="88.80" font-family='"Liberation Sans", sans-serif' font-size="8.40" fill="#505050" text-anchor="start" font-weight="normal" textLength="16.20" lengthAdjust="spacingAndGlyphs" >1 Hit</text>
<path d="M526.70,85.80 L541.60,85.80" stroke="#A5A5A5" stroke-width="1.1"/>
<path d="M534.15,83.50 L536.35,87.50 L531.95,87.50 Z" fill="none" stroke="#A5A5A5" stroke-width="0.9"/>
<text x="542.60" y="88.80" font-family='"Liberation Sans", sans-serif' font-size="8.40" fill="#505050" text-anchor="start" font-weight="normal" textLength="19.50" lengthAdjust="spacingAndGlyphs" >2 Hits</text>
<path d="M403.10,101.10 L417.90,101.10" stroke="#FFC000" stroke-width="1.1"/>
<path d="M408.50,99.10 L412.50,103.10 M412.50,99.10 L408.50,103.10" stroke="#FFC000" stroke-width="1"/>
<text x="419.00" y="104.10" font-family='"Liberation Sans", sans-serif' font-size="8.40" fill="#505050" text-anchor="start" font-weight="normal" textLength="19.50" lengthAdjust="spacingAndGlyphs" >3 Hits</text>
<path d="M464.60,101.10 L479.50,101.10" stroke="#4472C4" stroke-width="1.1"/>
<path d="M470.05,99.10 L474.05,103.10 M474.05,99.10 L470.05,103.10 M470.05,101.10 L474.05,101.10" stroke="#4472C4" stroke-width="1.1"/>
<text x="481.10" y="104.10" font-family='"Liberation Sans", sans-serif' font-size="8.40" fill="#505050" text-anchor="start" font-weight="normal" textLength="19.50" lengthAdjust="spacingAndGlyphs" >4 Hits</text>
<path d="M526.70,101.10 L541.60,101.10" stroke="#70AD47" stroke-width="1.1"/>
<path d="M532.95,101.10 L535.35,101.10" stroke="#70AD47" stroke-width="1.4"/>
<text x="542.60" y="104.10" font-family='"Liberation Sans", sans-serif' font-size="8.40" fill="#505050" text-anchor="start" font-weight="normal" textLength="19.50" lengthAdjust="spacingAndGlyphs" >5 Hits</text>
<path d="M403.10,116.10 L417.90,116.10" stroke="#255E91" stroke-width="1.1"/>
<path d="M408.50,116.10 L412.50,116.10 M410.50,114.10 L410.50,118.10" stroke="#255E91" stroke-width="1"/>
<text x="419.00" y="119.10" font-family='"Liberation Sans", sans-serif' font-size="8.40" fill="#505050" text-anchor="start" font-weight="normal" textLength="19.50" lengthAdjust="spacingAndGlyphs" >6 Hits</text>
<path d="M464.60,116.10 L479.50,116.10" stroke="#9E480E" stroke-width="1.1"/>
<path d="M469.55,116.10 L474.55,116.10" stroke="#9E480E" stroke-width="1.8"/>
<text x="481.10" y="119.10" font-family='"Liberation Sans", sans-serif' font-size="8.40" fill="#505050" text-anchor="start" font-weight="normal" textLength="19.50" lengthAdjust="spacingAndGlyphs" >7 Hits</text>
<path d="M526.70,116.10 L541.60,116.10" stroke="#636363" stroke-width="1.1"/>
<circle cx="534.15" cy="116.10" r="2.00" fill="none" stroke="#636363" stroke-width="0.9"/>
<text x="542.60" y="119.10" font-family='"Liberation Sans", sans-serif' font-size="8.40" fill="#505050" text-anchor="start" font-weight="normal" textLength="28.00" lengthAdjust="spacingAndGlyphs" >&gt;=8 Hits</text>
<path d="M1.5,1.5 L665.5,1.5" stroke="#3a3a3a" stroke-width="1.2"/>
<path d="M1.5,1.5 L1.5,275.5" stroke="#262626" stroke-width="1.2"/>
<path d="M665.5,1.5 L665.5,275.5" stroke="#777" stroke-width="1.4"/>
<path d="M1.5,275.5 L665.5,275.5" stroke="#111" stroke-width="1.3"/>
<path d="M329.5,1.5 L329.5,275.5" stroke="#222" stroke-width="1.2"/>
</svg></body></html>
